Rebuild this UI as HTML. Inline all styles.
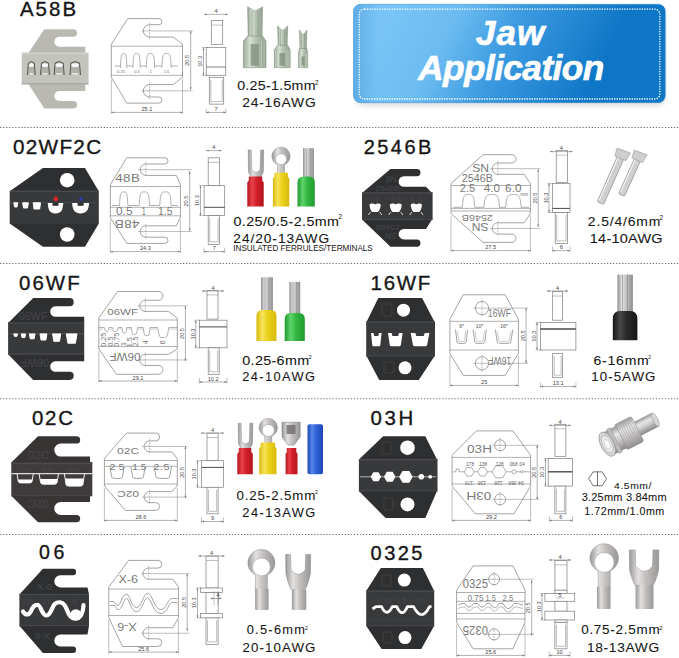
<!DOCTYPE html><html><head><meta charset="utf-8"><style>html,body{margin:0;padding:0;background:#fff;}svg{display:block;} text{font-family:"Liberation Sans",sans-serif;}</style></head><body>
<svg width="679" height="658" viewBox="0 0 679 658" font-family="Liberation Sans, sans-serif">
<defs>
<linearGradient id="bg1" gradientUnits="userSpaceOnUse" x1="385" y1="25" x2="575" y2="120">
<stop offset="0" stop-color="#78c4f6"/><stop offset="0.28" stop-color="#6cbcf2"/><stop offset="0.55" stop-color="#3d9be0"/><stop offset="1" stop-color="#0e76c7"/>
</linearGradient>
<linearGradient id="bgL" gradientUnits="userSpaceOnUse" x1="353" y1="0" x2="378" y2="0">
<stop offset="0" stop-color="#1f6fb8" stop-opacity="0.28"/><stop offset="1" stop-color="#1f6fb8" stop-opacity="0"/>
</linearGradient>
<filter id="sh" x="-10%" y="-10%" width="120%" height="140%"><feGaussianBlur stdDeviation="2.5"/></filter>
</defs>
<rect width="679" height="658" fill="#fff"/>
<path d="M0,127.5 H679" stroke="#707070" stroke-width="1.1" stroke-dasharray="1.3 1.75"/>
<path d="M0,263.5 H679" stroke="#707070" stroke-width="1.1" stroke-dasharray="1.3 1.75"/>
<path d="M0,398.8 H679" stroke="#707070" stroke-width="1.1" stroke-dasharray="1.3 1.75"/>
<path d="M0,534.5 H679" stroke="#707070" stroke-width="1.1" stroke-dasharray="1.3 1.75"/>
<rect x="356" y="8" width="309" height="98" rx="7" fill="#c9c4bd" opacity="0.55" filter="url(#sh)"/>
<rect x="353.5" y="4.3" width="311.8" height="98.4" rx="7" fill="url(#bg1)"/>
<rect x="353.5" y="4.3" width="311.8" height="98.4" rx="7" fill="url(#bgL)"/>
<rect x="353.5" y="4.3" width="311.8" height="98.4" rx="7" fill="none" stroke="#2f8fd8" stroke-opacity="0.5" stroke-width="1"/>
<rect x="359.3" y="9.2" width="300.5" height="89.8" rx="5" fill="none" stroke="#ffffff" stroke-width="1.3" stroke-dasharray="1.3 1.2"/>
<text x="475.85" y="45.30" font-size="35.30" letter-spacing="0.94" font-weight="bold" font-style="italic" fill="#ffffff" stroke="#fff" stroke-width="0.6">Jaw</text>
<text x="418.11" y="79.80" font-size="35.30" letter-spacing="-0.60" font-weight="bold" font-style="italic" fill="#ffffff" stroke="#fff" stroke-width="0.6">Application</text>
<text x="19.90" y="15.50" font-size="20.43" letter-spacing="2.09" font-weight="normal" font-style="normal" fill="#161616" stroke="#161616" stroke-width="0.35">A58B</text>
<text x="12.97" y="154.20" font-size="20.71" letter-spacing="1.29" font-weight="normal" font-style="normal" fill="#161616" stroke="#161616" stroke-width="0.35">02WF2C</text>
<text x="363.70" y="154.00" font-size="20.00" letter-spacing="2.45" font-weight="normal" font-style="normal" fill="#161616" stroke="#161616" stroke-width="0.35">2546B</text>
<text x="19.08" y="289.60" font-size="20.43" letter-spacing="2.03" font-weight="normal" font-style="normal" fill="#161616" stroke="#161616" stroke-width="0.35">06WF</text>
<text x="370.47" y="289.60" font-size="20.43" letter-spacing="1.80" font-weight="normal" font-style="normal" fill="#161616" stroke="#161616" stroke-width="0.35">16WF</text>
<text x="31.88" y="425.30" font-size="20.43" letter-spacing="1.82" font-weight="normal" font-style="normal" fill="#161616" stroke="#161616" stroke-width="0.35">02C</text>
<text x="370.58" y="425.30" font-size="20.43" letter-spacing="2.63" font-weight="normal" font-style="normal" fill="#161616" stroke="#161616" stroke-width="0.35">03H</text>
<text x="39.02" y="559.30" font-size="19.57" letter-spacing="3.64" font-weight="normal" font-style="normal" fill="#161616" stroke="#161616" stroke-width="0.35">06</text>
<text x="370.60" y="559.60" font-size="20.00" letter-spacing="2.47" font-weight="normal" font-style="normal" fill="#161616" stroke="#161616" stroke-width="0.35">0325</text>
<text transform="translate(237.13 90.40) scale(1.0700 1)" font-size="13.29" letter-spacing="0.27" font-weight="normal" font-style="normal" fill="#161616" stroke="#161616" stroke-width="0.08">0.25-1.5mm</text>
<text transform="translate(242.30 107.30) scale(1.0700 1)" font-size="13.00" letter-spacing="0.69" font-weight="normal" font-style="normal" fill="#161616" stroke="#161616" stroke-width="0.08">24-16AWG</text>
<text transform="translate(233.43 225.90) scale(1.0700 1)" font-size="13.38" letter-spacing="0.39" font-weight="normal" font-style="normal" fill="#161616" stroke="#161616" stroke-width="0.08">0.25/0.5-2.5mm</text>
<text transform="translate(233.31 242.60) scale(1.0700 1)" font-size="12.83" letter-spacing="0.89" font-weight="normal" font-style="normal" fill="#161616" stroke="#161616" stroke-width="0.08">24/20-13AWG</text>
<text transform="translate(587.81 225.80) scale(1.0700 1)" font-size="12.97" letter-spacing="0.82" font-weight="normal" font-style="normal" fill="#161616" stroke="#161616" stroke-width="0.08">2.5/4/6mm</text>
<text transform="translate(589.81 242.90) scale(1.0700 1)" font-size="13.57" letter-spacing="0.21" font-weight="normal" font-style="normal" fill="#161616" stroke="#161616" stroke-width="0.08">14-10AWG</text>
<text transform="translate(242.33 364.70) scale(1.0700 1)" font-size="13.43" letter-spacing="0.29" font-weight="normal" font-style="normal" fill="#161616" stroke="#161616" stroke-width="0.08">0.25-6mm</text>
<text transform="translate(242.26 381.40) scale(1.0700 1)" font-size="12.00" letter-spacing="1.32" font-weight="normal" font-style="normal" fill="#161616" stroke="#161616" stroke-width="0.08">24-10AWG</text>
<text transform="translate(593.50 364.50) scale(1.0700 1)" font-size="13.14" letter-spacing="0.71" font-weight="normal" font-style="normal" fill="#161616" stroke="#161616" stroke-width="0.08">6-16mm</text>
<text transform="translate(591.30 381.30) scale(1.0700 1)" font-size="12.43" letter-spacing="0.98" font-weight="normal" font-style="normal" fill="#161616" stroke="#161616" stroke-width="0.08">10-5AWG</text>
<text transform="translate(236.47 499.70) scale(1.0700 1)" font-size="12.43" letter-spacing="0.82" font-weight="normal" font-style="normal" fill="#161616" stroke="#161616" stroke-width="0.08">0.25-2.5mm</text>
<text transform="translate(242.36 517.10) scale(1.0700 1)" font-size="12.00" letter-spacing="1.34" font-weight="normal" font-style="normal" fill="#161616" stroke="#161616" stroke-width="0.08">24-13AWG</text>
<text transform="translate(246.69 634.40) scale(1.0700 1)" font-size="12.00" letter-spacing="1.20" font-weight="normal" font-style="normal" fill="#161616" stroke="#161616" stroke-width="0.08">0.5-6mm</text>
<text transform="translate(242.54 651.80) scale(1.0700 1)" font-size="12.43" letter-spacing="1.02" font-weight="normal" font-style="normal" fill="#161616" stroke="#161616" stroke-width="0.08">20-10AWG</text>
<text transform="translate(581.16 634.40) scale(1.0700 1)" font-size="12.57" letter-spacing="0.70" font-weight="normal" font-style="normal" fill="#161616" stroke="#161616" stroke-width="0.08">0.75-2.5mm</text>
<text transform="translate(586.97 651.80) scale(1.0700 1)" font-size="12.86" letter-spacing="0.63" font-weight="normal" font-style="normal" fill="#161616" stroke="#161616" stroke-width="0.08">18-13AWG</text>
<text transform="translate(614.09 488.50) scale(1.0700 1)" font-size="9.66" letter-spacing="0.53" font-weight="normal" font-style="normal" fill="#161616" stroke="#161616" stroke-width="0.08">4.5mm/</text>
<text transform="translate(581.76 501.40) scale(1.0700 1)" font-size="10.29" letter-spacing="0.18" font-weight="normal" font-style="normal" fill="#161616" stroke="#161616" stroke-width="0.08">3.25mm 3.84mm</text>
<text transform="translate(584.29 514.60) scale(1.0700 1)" font-size="10.07" letter-spacing="0.45" font-weight="normal" font-style="normal" fill="#161616" stroke="#161616" stroke-width="0.08">1.72mm/1.0mm</text>
<text x="315.08" y="84.60" font-size="6.43" letter-spacing="0.00" font-weight="normal" font-style="normal" fill="#161616" >2</text>
<text x="338.35" y="218.90" font-size="7.00" letter-spacing="0.00" font-weight="normal" font-style="normal" fill="#161616" >2</text>
<text x="659.58" y="220.40" font-size="6.43" letter-spacing="0.00" font-weight="normal" font-style="normal" fill="#161616" >2</text>
<text x="308.61" y="358.80" font-size="5.86" letter-spacing="0.00" font-weight="normal" font-style="normal" fill="#161616" >2</text>
<text x="648.35" y="358.80" font-size="5.00" letter-spacing="0.00" font-weight="normal" font-style="normal" fill="#161616" >2</text>
<text x="314.94" y="494.00" font-size="5.29" letter-spacing="0.00" font-weight="normal" font-style="normal" fill="#161616" >2</text>
<text x="304.72" y="629.50" font-size="5.57" letter-spacing="0.00" font-weight="normal" font-style="normal" fill="#161616" >2</text>
<text x="659.20" y="629.50" font-size="6.00" letter-spacing="0.00" font-weight="normal" font-style="normal" fill="#161616" >2</text>
<text transform="translate(233.27 251.40) scale(0.9836 1)" font-size="8.28" letter-spacing="0.00" font-weight="normal" font-style="normal" fill="#161616" >INSULATED FERRULES/TERMINALS</text>
<path d="M28.40,53.10 L44.30,29.20 L73.25,29.20 A3.75,3.75 0 0 1 73.25,36.70 L59.35,36.70 A5.05,5.05 0 0 0 59.35,46.80 L85.30,46.80 L85.30,53.10 Z" fill="#b9b9b2"/>
<path d="M28.40,83.90 L44.30,108.60 L73.25,108.60 A3.75,3.75 0 0 0 73.25,101.10 L59.35,101.10 A5.05,5.05 0 0 1 59.35,91.00 L85.30,91.00 L85.30,83.90 Z" fill="#b9b9b2"/>
<rect x="21.7" y="52.6" width="66.90" height="31.80" fill="#c4c4be"/>
<path d="M9.7,191.3 L42.9,168.1 L85,168.1 L98.8,191.3 Z" fill="#2e2f31"/>
<path d="M9.7,223.5 L42.9,246.7 L85,246.7 L98.8,223.5 Z" fill="#2e2f31"/>
<rect x="9.7" y="190.8" width="89.10" height="33.20" fill="#38393b"/>
<circle cx="67.2" cy="180.2" r="7.3" fill="#fff"/>
<circle cx="67.2" cy="234.5" r="7.3" fill="#fff"/>
<path d="M362.00,192.90 L390.50,168.90 L416.85,168.90 A3.65,3.65 0 0 1 416.85,176.20 L403.85,176.20 A5.25,5.25 0 0 0 403.85,186.70 L426.00,186.70 L432.00,192.90 Z" fill="#2e2f31"/>
<path d="M362.00,219.50 L390.50,246.70 L416.85,246.70 A3.65,3.65 0 0 0 416.85,239.40 L403.85,239.40 A5.25,5.25 0 0 1 403.85,228.90 L426.00,228.90 L432.00,219.50 Z" fill="#2e2f31"/>
<rect x="362" y="192.4" width="70.60" height="27.60" fill="#38393b"/>
<path d="M8.10,322.90 L33.20,298.10 L69.65,298.10 A4.05,4.05 0 0 1 69.65,306.20 L55.45,306.20 A5.25,5.25 0 0 0 55.45,316.70 L84.20,316.70 L84.20,322.90 Z" fill="#2e2f31"/>
<path d="M8.10,354.30 L33.20,379.90 L69.65,379.90 A4.05,4.05 0 0 0 69.65,371.80 L55.45,371.80 A5.25,5.25 0 0 1 55.45,361.30 L84.20,361.30 L84.20,354.30 Z" fill="#2e2f31"/>
<rect x="8.1" y="322.4" width="76.10" height="32.40" fill="#38393b"/>
<path d="M366.5,322.1 L378.3,298.1 L422.1,298.1 L434.6,322.1 Z" fill="#2e2f31"/>
<path d="M366.5,355.9 L379.2,380 L418.8,380 L434.6,355.9 Z" fill="#2e2f31"/>
<rect x="366.2" y="321.6" width="68.80" height="34.80" fill="#38393b"/>
<circle cx="403.5" cy="310.2" r="6.5" fill="#fff"/>
<circle cx="405" cy="367.8" r="6.5" fill="#fff"/>
<path d="M11.30,462.50 L38.00,436.30 L76.55,436.30 A3.65,3.65 0 0 1 76.55,443.60 L60.80,443.60 A6.50,6.50 0 0 0 60.80,456.60 L90.00,456.60 L90.00,462.50 Z" fill="#383434"/>
<path d="M11.30,495.80 L38.00,522.20 L76.55,522.20 A3.65,3.65 0 0 0 76.55,514.90 L60.80,514.90 A6.50,6.50 0 0 1 60.80,501.90 L90.00,501.90 L90.00,495.80 Z" fill="#383434"/>
<rect x="11.3" y="462" width="81.00" height="34.30" fill="#3f3b3b"/>
<path d="M358.9,459.5 L383.2,436.3 L425.3,436.3 L437,459.5 Z" fill="#2e2f31"/>
<path d="M358.9,490.9 L385.6,518.1 L425.3,518.1 L437,490.9 Z" fill="#2e2f31"/>
<rect x="358.9" y="459" width="78.60" height="32.40" fill="#38393b"/>
<circle cx="407.5" cy="447.7" r="7.3" fill="#fff"/>
<circle cx="407.5" cy="504.4" r="7.0" fill="#fff"/>
<path d="M19.40,594.40 L42.90,568.80 L72.90,568.80 A3.20,3.20 0 0 1 72.90,575.20 L60.40,575.20 A6.10,6.10 0 0 0 60.40,587.40 L87.50,587.40 L89.00,594.40 Z" fill="#2e2f31"/>
<path d="M19.40,625.80 L42.90,653.00 L72.90,653.00 A3.20,3.20 0 0 0 72.90,646.60 L60.40,646.60 A6.10,6.10 0 0 1 60.40,634.40 L87.50,634.40 L89.00,625.80 Z" fill="#2e2f31"/>
<rect x="19.4" y="593.9" width="69.60" height="32.40" fill="#38393b"/>
<path d="M366.2,591.1 L380.8,568 L422.9,568 L434.2,591.1 Z" fill="#2e2f31"/>
<path d="M366.2,625.8 L381.6,649 L421.3,649 L434.2,625.8 Z" fill="#2e2f31"/>
<rect x="366.2" y="590.6" width="68.00" height="35.70" fill="#38393b"/>
<circle cx="404.3" cy="580.1" r="6.5" fill="#fff"/>
<circle cx="405" cy="637.6" r="6.5" fill="#fff"/>
<path d="M27.4,75 L28.4,63 Q31.349999999999998,60 34.3,63 L35.3,75" fill="#b2b2ab" stroke="#4e4e4a" stroke-width="0.9"/>
<ellipse cx="31.349999999999998" cy="65.2" rx="2.4499999999999993" ry="1.9" fill="#fafafa"/>
<rect x="29.4" y="73.2" width="3.8999999999999986" height="1.3" fill="#f4f4f4"/>
<path d="M40.5,75 L41.5,63 Q45.0,60 48.5,63 L49.5,75" fill="#b2b2ab" stroke="#4e4e4a" stroke-width="0.9"/>
<ellipse cx="45.0" cy="65.2" rx="3.0" ry="1.9" fill="#fafafa"/>
<rect x="42.5" y="73.2" width="5" height="1.3" fill="#f4f4f4"/>
<path d="M54.1,75 L55.1,63 Q59.150000000000006,60 63.2,63 L64.2,75" fill="#b2b2ab" stroke="#4e4e4a" stroke-width="0.9"/>
<ellipse cx="59.150000000000006" cy="65.2" rx="3.5500000000000007" ry="1.9" fill="#fafafa"/>
<rect x="56.1" y="73.2" width="6.100000000000001" height="1.3" fill="#f4f4f4"/>
<path d="M69.9,75 L70.9,63 Q75.2,60 79.5,63 L80.5,75" fill="#b2b2ab" stroke="#4e4e4a" stroke-width="0.9"/>
<ellipse cx="75.2" cy="65.2" rx="3.799999999999997" ry="1.9" fill="#fafafa"/>
<rect x="71.9" y="73.2" width="6.599999999999994" height="1.3" fill="#f4f4f4"/>
<path d="M21.7,53.2 H88.6" stroke="#d8d8d2" stroke-width="1"/>
<path d="M21.7,83.8 H88.6" stroke="#96968f" stroke-width="0.8"/>
<path d="M10,191.2 H98.8" stroke="#55565a" stroke-width="0.9"/>
<path d="M10,202.6 H98.8" stroke="#4a4b4e" stroke-width="0.8"/>
<path d="M13.8,202.8 L17.8,202.8 L17.0,207 L14.600000000000001,207 Z" fill="#fff" stroke="#fff" stroke-width="1.0" stroke-linejoin="round"/>
<path d="M22.7,202.8 L28.3,202.8 L27.5,208 L23.5,208 Z" fill="#fff" stroke="#fff" stroke-width="1.0" stroke-linejoin="round"/>
<path d="M33.2,202.8 L40.5,202.8 L39.7,209 L34.0,209 Z" fill="#fff" stroke="#fff" stroke-width="1.0" stroke-linejoin="round"/>
<path d="M47.8,203 C48,210 50,213.5 55.5,213.5 C61,213.5 63,210 63.2,203 Z" fill="#fff"/>
<path d="M72.1,203 C72.5,210 75,213.5 80.6,213.5 C86,213.5 88.8,210 89.1,203 Z" fill="#fff"/>
<rect x="52.5" y="202.6" width="6" height="3.2" fill="#2e2f31"/>
<rect x="77.6" y="202.6" width="6" height="3.2" fill="#2e2f31"/>
<circle cx="55.9" cy="198.9" r="2.4" fill="#d8262c"/>
<circle cx="81" cy="198.9" r="2.2" fill="#2c3f9c"/>
<path d="M362,193 H432.6" stroke="#55565a" stroke-width="0.9"/>
<path d="M369.4,205 Q369.4,203 373.1,203.5 Q375.1,205 377.1,203.5 Q380.8,203 380.8,205 Q379.8,211 377.8,212 L372.4,212 Q370.4,211 369.4,205 Z" fill="#fff"/>
<path d="M368.4,215 L370.4,212 M381.8,215 L379.8,212" stroke="#fff" stroke-width="0.8"/>
<path d="M389.7,205 Q389.7,203 393.75,203.5 Q395.75,205 397.75,203.5 Q401.8,203 401.8,205 Q400.8,211 398.8,212 L392.7,212 Q390.7,211 389.7,205 Z" fill="#fff"/>
<path d="M388.7,215 L390.7,212 M402.8,215 L400.8,212" stroke="#fff" stroke-width="0.8"/>
<path d="M410.7,205 Q410.7,203 414.35,203.5 Q416.35,205 418.35,203.5 Q422,203 422,205 Q421,211 419,212 L413.7,212 Q411.7,211 410.7,205 Z" fill="#fff"/>
<path d="M409.7,215 L411.7,212 M423,215 L421,212" stroke="#fff" stroke-width="0.8"/>
<path d="M362,219.5 H432.6" stroke="#4a4b4e" stroke-width="0.8"/>
<path d="M8.1,323 H84.2" stroke="#4b4c4f" stroke-width="1.2"/>
<path d="M8.1,333.6 H84.2" stroke="#5a5b5e" stroke-width="0.7"/>
<path d="M13.8,333.9 L17.5,333.9 L16.945,336.3 L14.355,336.3 Z" fill="#fff" stroke="#fff" stroke-width="1.0" stroke-linejoin="round"/>
<path d="M21.3,333.9 L25.6,333.9 L24.955000000000002,337.5 L21.945,337.5 Z" fill="#fff" stroke="#fff" stroke-width="1.0" stroke-linejoin="round"/>
<path d="M29.4,333.9 L35,333.9 L34.16,338.8 L30.24,338.8 Z" fill="#fff" stroke="#fff" stroke-width="1.0" stroke-linejoin="round"/>
<path d="M40,333.9 L46.9,333.9 L45.865,340 L41.035,340 Z" fill="#fff" stroke="#fff" stroke-width="1.0" stroke-linejoin="round"/>
<path d="M52.6,333.9 L60.7,333.9 L59.485,341.3 L53.815000000000005,341.3 Z" fill="#fff" stroke="#fff" stroke-width="1.0" stroke-linejoin="round"/>
<path d="M66.3,333.9 L77,333.9 L75.395,343.2 L67.905,343.2 Z" fill="#fff" stroke="#fff" stroke-width="1.0" stroke-linejoin="round"/>
<path d="M8.1,353.8 H84.2" stroke="#4b4c4f" stroke-width="0.8"/>
<path d="M366.2,322.2 H435" stroke="#4b4c4f" stroke-width="1.2"/>
<path d="M371,333 L373.65,333 L374.18,336 L378.42,336 L378.95000000000005,333 L381.6,333 L380.32800000000003,345 Q380.11600000000004,346.3 379.26800000000003,346.3 L373.332,346.3 Q372.484,346.3 372.272,345 Z" fill="#fff"/>
<path d="M388,333 L391.65,333 L392.38,336 L398.22,336 L398.95000000000005,333 L402.6,333 L400.848,345 Q400.55600000000004,346.3 399.38800000000003,346.3 L391.212,346.3 Q390.044,346.3 389.752,345 Z" fill="#fff"/>
<path d="M410.7,333 L415.375,333 L416.31,336 L423.78999999999996,336 L424.72499999999997,333 L429.4,333 L427.156,345 Q426.782,346.3 425.286,346.3 L414.81399999999996,346.3 Q413.318,346.3 412.94399999999996,345 Z" fill="#fff"/>
<path d="M366.2,355.8 H435" stroke="#4b4c4f" stroke-width="0.8"/>
<rect x="382" y="304" width="10" height="12" rx="2" fill="none" stroke="#444" stroke-width="0.9"/>
<rect x="384" y="362" width="10" height="11" rx="2" fill="none" stroke="#444" stroke-width="0.9"/>
<path d="M11.3,463.6 H92.3" stroke="#4b4c4f" stroke-width="1.2"/>
<path d="M11.3,473.6 H92.3" stroke="#d9d9d9" stroke-width="1.1"/>
<path d="M17,473.8 L18.304,481.4 Q18.63,482.9 20.586,482.9 L29.714,482.9 Q31.669999999999998,482.9 31.996,481.4 L33.3,473.8" fill="none" stroke="#f2f2f2" stroke-width="1.0"/>
<path d="M17.8965,479.4 L32.403499999999994,479.4 L31.996,481.4 Q31.669999999999998,482.9 29.714,482.9 L20.586,482.9 Q18.63,482.9 18.304,481.4 Z" fill="#fff"/>
<path d="M39.1,473.8 L40.652,482.7 Q41.04,484.2 43.368,484.2 L54.232,484.2 Q56.56,484.2 56.948,482.7 L58.5,473.8" fill="none" stroke="#f2f2f2" stroke-width="1.0"/>
<path d="M40.167,479.0 L57.433,479.0 L56.948,482.7 Q56.56,484.2 54.232,484.2 L43.368,484.2 Q41.04,484.2 40.652,482.7 Z" fill="#fff"/>
<path d="M64.4,473.8 L66.00800000000001,484.6 Q66.41000000000001,486.1 68.822,486.1 L80.078,486.1 Q82.49,486.1 82.892,484.6 L84.5,473.8" fill="none" stroke="#f2f2f2" stroke-width="1.0"/>
<path d="M65.50550000000001,478.6 L83.3945,478.6 L82.892,484.6 Q82.49,486.1 80.078,486.1 L68.822,486.1 Q66.41000000000001,486.1 66.00800000000001,484.6 Z" fill="#fff"/>
<path d="M11.3,495.6 H92.3" stroke="#4b4c4f" stroke-width="0.8"/>
<path d="M358.9,459.6 H437.5" stroke="#4b4c4f" stroke-width="1.2"/>
<path d="M360,476.8 H436" stroke="#e6e6e6" stroke-width="0.7"/>
<polygon points="381.10,476.80 378.50,481.30 373.30,481.30 370.70,476.80 373.30,472.30 378.50,472.30" fill="#fff"/>
<polygon points="395.50,476.80 392.60,481.82 386.80,481.82 383.90,476.80 386.80,471.78 392.60,471.78" fill="#fff"/>
<polygon points="412.70,476.80 409.30,482.69 402.50,482.69 399.10,476.80 402.50,470.91 409.30,470.91" fill="#fff"/>
<circle cx="421.3" cy="476.8" r="2.8" fill="#fff"/>
<circle cx="430.2" cy="476.8" r="1.9" fill="#fff"/>
<path d="M358.9,490.8 H437.5" stroke="#4b4c4f" stroke-width="0.8"/>
<rect x="382" y="442" width="9" height="12" rx="2" fill="none" stroke="#444" stroke-width="0.9"/>
<rect x="384" y="498" width="9" height="12" rx="2" fill="none" stroke="#444" stroke-width="0.9"/>
<path d="M19.4,594.5 H89" stroke="#4b4c4f" stroke-width="1.2"/>
<path d="M23,611.5 C26,616 29,615 31,611 C33,606 35,604.5 38,605 C41,605.6 42,615.5 46.5,615.5 C51,615.5 52,606 55,603.8 C58,601.5 62,602 64.5,605 C67,608 67.5,614 71,617 C74,619.5 78,619.5 80.5,616 C83,612.5 83.3,609 83.5,605" fill="none" stroke="#fff" stroke-width="4.2" stroke-linecap="round" stroke-linejoin="round"/>
<ellipse cx="75.8" cy="614.5" rx="5.5" ry="5.2" fill="#fff"/>
<path d="M19.4,625.6 H89" stroke="#4b4c4f" stroke-width="0.8"/>
<path d="M366.2,591.2 H434.2" stroke="#4b4c4f" stroke-width="1.2"/>
<path d="M366.2,600 H434.2" stroke="#3f4043" stroke-width="0.6"/>
<path d="M372.5,609 L376,606.6 H381.5 Q386.9,618 392.3,606.6 H396.8 Q402.1,618.8 407.4,606.6 H413.5 Q421.7,622.5 429.5,606.6 H431.5" fill="none" stroke="#fff" stroke-width="2.8" stroke-linejoin="round"/>
<path d="M366.2,619.5 H434.2" stroke="#3f4043" stroke-width="0.7"/>
<path d="M366.2,625.7 H434.2" stroke="#4b4c4f" stroke-width="0.8"/>
<rect x="382" y="575" width="9" height="11" rx="2" fill="none" stroke="#444" stroke-width="0.9"/>
<rect x="383" y="632" width="9" height="11" rx="2" fill="none" stroke="#444" stroke-width="0.9"/>
<text transform="translate(385.43 182.40) scale(0.8941 1)" font-size="9.14" letter-spacing="0.00" font-weight="normal" font-style="normal" fill="#46474a" >SN</text>
<text transform="translate(375.58 190.80) scale(1.1463 1)" font-size="7.29" letter-spacing="0.00" font-weight="normal" font-style="normal" fill="#46474a" >2546B</text>
<text transform="translate(369.98 201.80) scale(0.8869 1)" font-size="7.29" letter-spacing="0.00" font-weight="normal" font-style="normal" fill="#46474a" >2.5</text>
<text transform="translate(390.85 201.80) scale(1.0590 1)" font-size="7.29" letter-spacing="0.00" font-weight="normal" font-style="normal" fill="#46474a" >4.0</text>
<text transform="translate(410.58 201.80) scale(1.1569 1)" font-size="7.29" letter-spacing="0.00" font-weight="normal" font-style="normal" fill="#46474a" >6.0</text>
<g transform="rotate(180 387.65 227.60)"><text transform="translate(375.58 230.20) scale(1.1242 1)" font-size="7.43" letter-spacing="0.00" font-weight="normal" font-style="normal" fill="#46474a" >2546B</text></g>
<g transform="rotate(180 390.95 236.20)"><text transform="translate(385.43 239.40) scale(0.8941 1)" font-size="9.14" letter-spacing="0.00" font-weight="normal" font-style="normal" fill="#46474a" >SN</text></g>
<text transform="translate(18.97 320.00) scale(1.0238 1)" font-size="10.43" letter-spacing="-0.00" font-weight="normal" font-style="normal" fill="#46474a" >06WF</text>
<g transform="rotate(180 34.80 362.25)"><text transform="translate(20.57 366.00) scale(0.9965 1)" font-size="10.71" letter-spacing="0.00" font-weight="normal" font-style="normal" fill="#46474a" >06WF</text></g>
<text transform="translate(27.84 459.00) scale(1.1092 1)" font-size="10.43" letter-spacing="0.00" font-weight="normal" font-style="normal" fill="#46474a" >02C</text>
<g transform="rotate(180 38.45 503.55)"><text transform="translate(27.84 507.30) scale(1.0796 1)" font-size="10.71" letter-spacing="0.00" font-weight="normal" font-style="normal" fill="#46474a" >02C</text></g>
<text transform="translate(21.61 472.50) scale(1.2200 1)" font-size="6.43" letter-spacing="-0.00" font-weight="normal" font-style="normal" fill="#46474a" >25</text>
<text transform="translate(42.47 472.50) scale(1.0824 1)" font-size="6.52" letter-spacing="0.00" font-weight="normal" font-style="normal" fill="#46474a" >1.5</text>
<text transform="translate(68.62 472.50) scale(1.1966 1)" font-size="6.43" letter-spacing="0.00" font-weight="normal" font-style="normal" fill="#46474a" >2.5</text>
<text transform="translate(37.06 590.00) scale(1.1353 1)" font-size="8.57" letter-spacing="0.00" font-weight="normal" font-style="normal" fill="#46474a" >X-6</text>
<g transform="rotate(180 42.50 636.10)"><text transform="translate(34.75 639.20) scale(1.1366 1)" font-size="8.86" letter-spacing="0.00" font-weight="normal" font-style="normal" fill="#46474a" >X-6</text></g>
<text transform="translate(22.69 604.40) scale(1.0905 1)" font-size="7.00" letter-spacing="0.00" font-weight="normal" font-style="normal" fill="#46474a" >0.5</text>
<text transform="translate(41.65 604.40) scale(0.9890 1)" font-size="7.00" letter-spacing="0.00" font-weight="normal" font-style="normal" fill="#46474a" >2.5</text>
<text transform="translate(72.57 604.40) scale(1.2289 1)" font-size="7.00" letter-spacing="0.00" font-weight="normal" font-style="normal" fill="#46474a" >6</text>
<text transform="translate(377.72 603.20) scale(0.9383 1)" font-size="7.43" letter-spacing="0.00" font-weight="normal" font-style="normal" fill="#46474a" >0.75</text>
<text transform="translate(397.53 603.20) scale(0.8326 1)" font-size="7.54" letter-spacing="0.00" font-weight="normal" font-style="normal" fill="#46474a" >1.5</text>
<text transform="translate(416.69 603.20) scale(0.8284 1)" font-size="7.43" letter-spacing="0.00" font-weight="normal" font-style="normal" fill="#46474a" >2.5</text>
<path d="M111.3,44.3 L127.8,18.6 L158.95,18.6 A3.05,3.05 0 0 1 158.95,24.7 L149.5,24.7 A6.20,6.20 0 0 0 149.5,37.1 L173.2,37.1 L182.5,44.3 L182.5,77.3 L173.2,84.60 L149.5,84.60 A6.20,6.20 0 0 0 149.5,97.00 L158.95,97.00 A3.05,3.05 0 0 1 158.95,103.1 L126.8,103.1 L111.3,77.3 Z" fill="#fff" stroke="#7c7c7c" stroke-width="0.7"/>
<path d="M111.3,46.2 H182.5" stroke="#7c7c7c" stroke-width="0.6"/>
<path d="M111.3,75.4 H182.5" stroke="#7c7c7c" stroke-width="0.6"/>
<path d="M149.5,22.699999999999996 V39.1" stroke="#7c7c7c" stroke-width="0.5" stroke-dasharray="2 1"/>
<path d="M141.3,30.9 H192.7" stroke="#7c7c7c" stroke-width="0.5"/>
<path d="M149.5,82.59999999999998 V98.99999999999999" stroke="#7c7c7c" stroke-width="0.5" stroke-dasharray="2 1"/>
<path d="M141.3,90.79999999999998 H192.7" stroke="#7c7c7c" stroke-width="0.5"/>
<path d="M190.7,31 V89.7" stroke="#7c7c7c" stroke-width="0.6"/><path d="M190.7,31 l-0.9,2.5 h1.8 Z M190.7,89.7 l-0.9,-2.5 h1.8 Z" fill="#7c7c7c"/>
<text x="189.39999999999998" y="60.35" font-size="5.6" fill="#444" text-anchor="middle" transform="rotate(-90 189.39999999999998 60.35)">20.5</text>
<path d="M111.3,112.4 H182.5" stroke="#7c7c7c" stroke-width="0.6"/><path d="M111.3,112.4 l2.5,-0.9 v1.8 Z M182.5,112.4 l-2.5,-0.9 v1.8 Z" fill="#7c7c7c"/>
<path d="M111.3,79.3 V113.9 M182.5,79.3 V113.9" stroke="#7c7c7c" stroke-width="0.5"/>
<text x="146.9" y="111.10000000000001" font-size="5.6" fill="#444" text-anchor="middle">25.1</text>
<rect x="211.3" y="20.6" width="11.40" height="23.70" fill="#fff" stroke="#7c7c7c" stroke-width="0.7"/>
<rect x="206.2" y="47.4" width="19.60" height="27.90" fill="#fff" stroke="#7c7c7c" stroke-width="0.7"/>
<rect x="209.3" y="77.3" width="14.40" height="26.80" fill="#fff" stroke="#7c7c7c" stroke-width="0.7"/>
<path d="M206.2,67 H225.8" stroke="#4a4a4a" stroke-width="0.7"/>
<path d="M211.3,25.1 H222.7" stroke="#7c7c7c" stroke-width="0.5"/>
<path d="M210.8,79.8 V101.6 H222.2 V79.8" fill="none" stroke="#7c7c7c" stroke-width="0.5"/>
<path d="M204.2,14.4 H227.8" stroke="#7c7c7c" stroke-width="0.6"/><path d="M204.2,14.4 l2.5,-0.9 v1.8 Z M227.8,14.4 l-2.5,-0.9 v1.8 Z" fill="#7c7c7c"/>
<text x="216.0" y="13.1" font-size="5.6" fill="#444" text-anchor="middle">4</text>
<path d="M206.2,112.4 H225.8" stroke="#7c7c7c" stroke-width="0.6"/><path d="M206.2,112.4 l2.5,-0.9 v1.8 Z M225.8,112.4 l-2.5,-0.9 v1.8 Z" fill="#7c7c7c"/>
<path d="M206.2,108.4 V113.9 M225.8,108.4 V113.9" stroke="#7c7c7c" stroke-width="0.5"/>
<text x="216.0" y="111.10000000000001" font-size="5.6" fill="#444" text-anchor="middle">7</text>
<path d="M203.5,47.4 V75.3" stroke="#7c7c7c" stroke-width="0.6"/><path d="M203.5,47.4 l-0.9,2.5 h1.8 Z M203.5,75.3 l-0.9,-2.5 h1.8 Z" fill="#7c7c7c"/>
<path d="M202.0,47.4 H207.5 M202.0,75.3 H207.5" stroke="#7c7c7c" stroke-width="0.5"/>
<text x="202.3" y="61.349999999999994" font-size="5.6" fill="#444" text-anchor="middle" transform="rotate(-90 202.3 61.349999999999994)">10.3</text>
<path d="M110.3,184.6 L126.8,157.8 L164.90,157.8 A3.10,3.10 0 0 1 164.90,164 L145.9,164 A5.70,5.70 0 0 0 145.9,175.4 L176.3,175.4 L180.4,184.6 L180.4,217.6 L176.3,225.80 L145.9,225.80 A5.70,5.70 0 0 0 145.9,237.20 L164.90,237.20 A3.10,3.10 0 0 1 164.90,243.4 L126.8,243.4 L110.3,217.6 Z" fill="#fff" stroke="#7c7c7c" stroke-width="0.7"/>
<path d="M110.3,186.5 H180.4" stroke="#7c7c7c" stroke-width="0.6"/>
<path d="M110.3,207.3 H180.4" stroke="#7c7c7c" stroke-width="0.6"/>
<path d="M110.3,215.8 H180.4" stroke="#7c7c7c" stroke-width="0.6"/>
<path d="M145.9,162.0 V177.39999999999998" stroke="#7c7c7c" stroke-width="0.5" stroke-dasharray="2 1"/>
<path d="M138.2,169.7 H191.7" stroke="#7c7c7c" stroke-width="0.5"/>
<path d="M145.9,223.80000000000007 V239.20000000000005" stroke="#7c7c7c" stroke-width="0.5" stroke-dasharray="2 1"/>
<path d="M138.2,231.50000000000006 H191.7" stroke="#7c7c7c" stroke-width="0.5"/>
<path d="M189.7,171.2 V231" stroke="#7c7c7c" stroke-width="0.6"/><path d="M189.7,171.2 l-0.9,2.5 h1.8 Z M189.7,231 l-0.9,-2.5 h1.8 Z" fill="#7c7c7c"/>
<text x="188.39999999999998" y="201.1" font-size="5.6" fill="#444" text-anchor="middle" transform="rotate(-90 188.39999999999998 201.1)">20.5</text>
<path d="M110.3,251.6 H180.4" stroke="#7c7c7c" stroke-width="0.6"/><path d="M110.3,251.6 l2.5,-0.9 v1.8 Z M180.4,251.6 l-2.5,-0.9 v1.8 Z" fill="#7c7c7c"/>
<path d="M110.3,219.6 V253.1 M180.4,219.6 V253.1" stroke="#7c7c7c" stroke-width="0.5"/>
<text x="145.35" y="250.29999999999998" font-size="5.6" fill="#444" text-anchor="middle">24.3</text>
<rect x="208.2" y="157.8" width="11.40" height="27.90" fill="#fff" stroke="#7c7c7c" stroke-width="0.7"/>
<rect x="204.1" y="185.7" width="20.60" height="29.90" fill="#fff" stroke="#7c7c7c" stroke-width="0.7"/>
<rect x="208.2" y="215.6" width="11.40" height="28.80" fill="#fff" stroke="#7c7c7c" stroke-width="0.7"/>
<path d="M204.1,207.3 H224.7" stroke="#4a4a4a" stroke-width="1.0"/>
<path d="M208.2,162.3 H219.6" stroke="#7c7c7c" stroke-width="0.5"/>
<path d="M209.7,218.1 V241.9 H218.1 V218.1" fill="none" stroke="#7c7c7c" stroke-width="0.5"/>
<path d="M206.2,150.6 H221.6" stroke="#7c7c7c" stroke-width="0.6"/><path d="M206.2,150.6 l2.5,-0.9 v1.8 Z M221.6,150.6 l-2.5,-0.9 v1.8 Z" fill="#7c7c7c"/>
<text x="213.89999999999998" y="149.29999999999998" font-size="5.6" fill="#444" text-anchor="middle">4</text>
<path d="M204.1,251.6 H224.7" stroke="#7c7c7c" stroke-width="0.6"/><path d="M204.1,251.6 l2.5,-0.9 v1.8 Z M224.7,251.6 l-2.5,-0.9 v1.8 Z" fill="#7c7c7c"/>
<path d="M204.1,247.6 V253.1 M224.7,247.6 V253.1" stroke="#7c7c7c" stroke-width="0.5"/>
<text x="214.39999999999998" y="250.29999999999998" font-size="5.6" fill="#444" text-anchor="middle">7</text>
<path d="M200.5,185.7 V215.6" stroke="#7c7c7c" stroke-width="0.6"/><path d="M200.5,185.7 l-0.9,2.5 h1.8 Z M200.5,215.6 l-0.9,-2.5 h1.8 Z" fill="#7c7c7c"/>
<path d="M199.0,185.7 H204.5 M199.0,215.6 H204.5" stroke="#7c7c7c" stroke-width="0.5"/>
<text x="199.3" y="200.64999999999998" font-size="5.6" fill="#444" text-anchor="middle" transform="rotate(-90 199.3 200.64999999999998)">10.3</text>
<path d="M451,183.6 L483,154.7 L511.85,154.7 A4.15,4.15 0 0 1 511.85,163 L497.9,163 A5.65,5.65 0 0 0 497.9,174.3 L524.2,174.3 L530.4,183.6 L530.4,213.5 L524.2,222.80 L497.9,222.80 A5.65,5.65 0 0 0 497.9,234.10 L511.85,234.10 A4.15,4.15 0 0 1 511.85,242.4 L483,242.4 L451,213.5 Z" fill="#fff" stroke="#7c7c7c" stroke-width="0.7"/>
<path d="M451,185.5 H530.4" stroke="#7c7c7c" stroke-width="0.6"/>
<path d="M451,208.4 H530.4" stroke="#7c7c7c" stroke-width="0.6"/>
<path d="M451,211 H530.4" stroke="#7c7c7c" stroke-width="0.6"/>
<path d="M497.9,161.0 V176.3" stroke="#7c7c7c" stroke-width="0.5" stroke-dasharray="2 1"/>
<path d="M490.25,168.65 H540.2" stroke="#7c7c7c" stroke-width="0.5"/>
<path d="M497.9,220.8 V236.10000000000002" stroke="#7c7c7c" stroke-width="0.5" stroke-dasharray="2 1"/>
<path d="M490.25,228.45000000000002 H540.2" stroke="#7c7c7c" stroke-width="0.5"/>
<path d="M538.2,169.2 V226.9" stroke="#7c7c7c" stroke-width="0.6"/><path d="M538.2,169.2 l-0.9,2.5 h1.8 Z M538.2,226.9 l-0.9,-2.5 h1.8 Z" fill="#7c7c7c"/>
<text x="536.9000000000001" y="198.05" font-size="5.6" fill="#444" text-anchor="middle" transform="rotate(-90 536.9000000000001 198.05)">20.5</text>
<path d="M451,250.6 H530.4" stroke="#7c7c7c" stroke-width="0.6"/><path d="M451,250.6 l2.5,-0.9 v1.8 Z M530.4,250.6 l-2.5,-0.9 v1.8 Z" fill="#7c7c7c"/>
<path d="M451,215.5 V252.1 M530.4,215.5 V252.1" stroke="#7c7c7c" stroke-width="0.5"/>
<text x="490.7" y="249.29999999999998" font-size="5.6" fill="#444" text-anchor="middle">27.5</text>
<rect x="556.2" y="150.6" width="11.30" height="32.00" fill="#fff" stroke="#7c7c7c" stroke-width="0.7"/>
<rect x="552.5" y="183.6" width="17.50" height="28.90" fill="#fff" stroke="#7c7c7c" stroke-width="0.7"/>
<rect x="555.2" y="212.5" width="12.30" height="30.90" fill="#fff" stroke="#7c7c7c" stroke-width="0.7"/>
<path d="M552.5,208.4 H570" stroke="#4a4a4a" stroke-width="1.0"/>
<path d="M556.2,155.1 H567.5" stroke="#7c7c7c" stroke-width="0.5"/>
<path d="M556.7,215.0 V240.9 H566.0 V215.0" fill="none" stroke="#7c7c7c" stroke-width="0.5"/>
<path d="M550,151.6 H572.6" stroke="#7c7c7c" stroke-width="0.6"/><path d="M550,151.6 l2.5,-0.9 v1.8 Z M572.6,151.6 l-2.5,-0.9 v1.8 Z" fill="#7c7c7c"/>
<text x="561.3" y="150.29999999999998" font-size="5.6" fill="#444" text-anchor="middle">4</text>
<path d="M552.5,250.6 H570" stroke="#7c7c7c" stroke-width="0.6"/><path d="M552.5,250.6 l2.5,-0.9 v1.8 Z M570,250.6 l-2.5,-0.9 v1.8 Z" fill="#7c7c7c"/>
<path d="M552.5,246.6 V252.1 M570,246.6 V252.1" stroke="#7c7c7c" stroke-width="0.5"/>
<text x="561.25" y="249.29999999999998" font-size="5.6" fill="#444" text-anchor="middle">6</text>
<path d="M549,183.6 V212.5" stroke="#7c7c7c" stroke-width="0.6"/><path d="M549,183.6 l-0.9,2.5 h1.8 Z M549,212.5 l-0.9,-2.5 h1.8 Z" fill="#7c7c7c"/>
<path d="M547.5,183.6 H553 M547.5,212.5 H553" stroke="#7c7c7c" stroke-width="0.5"/>
<text x="547.8" y="198.05" font-size="5.6" fill="#444" text-anchor="middle" transform="rotate(-90 547.8 198.05)">10.3</text>
<path d="M98.8,318 L117.6,291.5 L158.50,291.5 A4.40,4.40 0 0 1 158.50,300.3 L145.25,300.3 A5.55,5.55 0 0 0 145.25,311.4 L168.4,311.4 L177.3,318 L177.3,349 L168.4,354.40 L145.25,354.40 A5.55,5.55 0 0 0 145.25,365.50 L158.50,365.50 A4.40,4.40 0 0 1 158.50,374.3 L116.5,374.3 L98.8,349 Z" fill="#fff" stroke="#7c7c7c" stroke-width="0.7"/>
<path d="M98.8,320 H177.3" stroke="#7c7c7c" stroke-width="0.6"/>
<path d="M98.8,346.5 H177.3" stroke="#7c7c7c" stroke-width="0.6"/>
<path d="M145.25,298.30000000000007 V313.4" stroke="#7c7c7c" stroke-width="0.5" stroke-dasharray="2 1"/>
<path d="M137.70000000000002,305.85 H187.4" stroke="#7c7c7c" stroke-width="0.5"/>
<path d="M145.25,352.4 V367.4999999999999" stroke="#7c7c7c" stroke-width="0.5" stroke-dasharray="2 1"/>
<path d="M137.70000000000002,359.94999999999993 H187.4" stroke="#7c7c7c" stroke-width="0.5"/>
<path d="M185.4,305.9 V361.1" stroke="#7c7c7c" stroke-width="0.6"/><path d="M185.4,305.9 l-0.9,2.5 h1.8 Z M185.4,361.1 l-0.9,-2.5 h1.8 Z" fill="#7c7c7c"/>
<text x="184.1" y="333.5" font-size="5.6" fill="#444" text-anchor="middle" transform="rotate(-90 184.1 333.5)">20.5</text>
<path d="M98.8,381 H177.3" stroke="#7c7c7c" stroke-width="0.6"/><path d="M98.8,381 l2.5,-0.9 v1.8 Z M177.3,381 l-2.5,-0.9 v1.8 Z" fill="#7c7c7c"/>
<path d="M98.8,351 V382.5 M177.3,351 V382.5" stroke="#7c7c7c" stroke-width="0.5"/>
<text x="138.05" y="379.7" font-size="5.6" fill="#444" text-anchor="middle">29.1</text>
<rect x="207" y="290.4" width="11.00" height="28.70" fill="#fff" stroke="#7c7c7c" stroke-width="0.7"/>
<rect x="199.3" y="320.2" width="27.70" height="27.60" fill="#fff" stroke="#7c7c7c" stroke-width="0.7"/>
<rect x="208.2" y="347.8" width="11.00" height="26.50" fill="#fff" stroke="#7c7c7c" stroke-width="0.7"/>
<path d="M199.3,326.9 H227" stroke="#4a4a4a" stroke-width="1.0"/>
<path d="M207,294.9 H218" stroke="#7c7c7c" stroke-width="0.5"/>
<path d="M209.7,350.3 V371.8 H217.7 V350.3" fill="none" stroke="#7c7c7c" stroke-width="0.5"/>
<path d="M202,291 H224" stroke="#7c7c7c" stroke-width="0.6"/><path d="M202,291 l2.5,-0.9 v1.8 Z M224,291 l-2.5,-0.9 v1.8 Z" fill="#7c7c7c"/>
<text x="213.0" y="289.7" font-size="5.6" fill="#444" text-anchor="middle">4</text>
<path d="M199.3,382 H227" stroke="#7c7c7c" stroke-width="0.6"/><path d="M199.3,382 l2.5,-0.9 v1.8 Z M227,382 l-2.5,-0.9 v1.8 Z" fill="#7c7c7c"/>
<path d="M199.3,378 V383.5 M227,378 V383.5" stroke="#7c7c7c" stroke-width="0.5"/>
<text x="213.15" y="380.7" font-size="5.6" fill="#444" text-anchor="middle">10.2</text>
<path d="M195.8,320.2 V347.8" stroke="#7c7c7c" stroke-width="0.6"/><path d="M195.8,320.2 l-0.9,2.5 h1.8 Z M195.8,347.8 l-0.9,-2.5 h1.8 Z" fill="#7c7c7c"/>
<path d="M194.3,320.2 H199.8 M194.3,347.8 H199.8" stroke="#7c7c7c" stroke-width="0.5"/>
<text x="194.60000000000002" y="334.0" font-size="5.6" fill="#444" text-anchor="middle" transform="rotate(-90 194.60000000000002 334.0)">10.3</text>
<path d="M449.9,319.1 L463.2,294.8 L505.2,294.8 L518.4,319.1 L518.4,353.4 L505.2,375.4 L463.2,375.4 L449.9,353.4 Z" fill="#fff" stroke="#7c7c7c" stroke-width="0.7"/>
<path d="M449.9,321.3 H518.4" stroke="#7c7c7c" stroke-width="0.6"/>
<path d="M449.9,350 H518.4" stroke="#7c7c7c" stroke-width="0.6"/>
<circle cx="482" cy="308.1" r="6.6" fill="none" stroke="#7c7c7c" stroke-width="0.7"/>
<path d="M482,299.5 V316.70000000000005" stroke="#7c7c7c" stroke-width="0.5" stroke-dasharray="2 1"/>
<path d="M473.4,308.1 H528.1" stroke="#7c7c7c" stroke-width="0.5"/>
<circle cx="482" cy="363.3" r="6.6" fill="none" stroke="#7c7c7c" stroke-width="0.7"/>
<path d="M482,354.7 V371.90000000000003" stroke="#7c7c7c" stroke-width="0.5" stroke-dasharray="2 1"/>
<path d="M473.4,363.3 H528.1" stroke="#7c7c7c" stroke-width="0.5"/>
<path d="M526.1,308.1 V363.3" stroke="#7c7c7c" stroke-width="0.6"/><path d="M526.1,308.1 l-0.9,2.5 h1.8 Z M526.1,363.3 l-0.9,-2.5 h1.8 Z" fill="#7c7c7c"/>
<text x="524.8000000000001" y="335.70000000000005" font-size="5.6" fill="#444" text-anchor="middle" transform="rotate(-90 524.8000000000001 335.70000000000005)">20.5</text>
<path d="M449.9,385.4 H518.4" stroke="#7c7c7c" stroke-width="0.6"/><path d="M449.9,385.4 l2.5,-0.9 v1.8 Z M518.4,385.4 l-2.5,-0.9 v1.8 Z" fill="#7c7c7c"/>
<path d="M449.9,355.4 V386.9 M518.4,355.4 V386.9" stroke="#7c7c7c" stroke-width="0.5"/>
<text x="484.15" y="384.09999999999997" font-size="5.6" fill="#444" text-anchor="middle">25</text>
<rect x="552.7" y="291.5" width="9.90" height="28.70" fill="#fff" stroke="#7c7c7c" stroke-width="0.7"/>
<rect x="540.5" y="322.4" width="35.40" height="27.60" fill="#fff" stroke="#7c7c7c" stroke-width="0.7"/>
<rect x="552.7" y="353.4" width="9.90" height="24.30" fill="#fff" stroke="#7c7c7c" stroke-width="0.7"/>
<path d="M540.5,329 H575.9" stroke="#4a4a4a" stroke-width="1.6"/>
<path d="M552.7,296.0 H562.6" stroke="#7c7c7c" stroke-width="0.5"/>
<path d="M554.2,355.9 V375.2 H561.1 V355.9" fill="none" stroke="#7c7c7c" stroke-width="0.5"/>
<path d="M547,291 H568" stroke="#7c7c7c" stroke-width="0.6"/><path d="M547,291 l2.5,-0.9 v1.8 Z M568,291 l-2.5,-0.9 v1.8 Z" fill="#7c7c7c"/>
<text x="557.5" y="289.7" font-size="5.6" fill="#444" text-anchor="middle">4</text>
<path d="M540.5,386.5 H575.9" stroke="#7c7c7c" stroke-width="0.6"/><path d="M540.5,386.5 l2.5,-0.9 v1.8 Z M575.9,386.5 l-2.5,-0.9 v1.8 Z" fill="#7c7c7c"/>
<path d="M540.5,382.5 V388.0 M575.9,382.5 V388.0" stroke="#7c7c7c" stroke-width="0.5"/>
<text x="558.2" y="385.2" font-size="5.6" fill="#444" text-anchor="middle">13.1</text>
<path d="M537,322.4 V350" stroke="#7c7c7c" stroke-width="0.6"/><path d="M537,322.4 l-0.9,2.5 h1.8 Z M537,350 l-0.9,-2.5 h1.8 Z" fill="#7c7c7c"/>
<path d="M535.5,322.4 H541 M535.5,350 H541" stroke="#7c7c7c" stroke-width="0.5"/>
<text x="535.8" y="336.2" font-size="5.6" fill="#444" text-anchor="middle" transform="rotate(-90 535.8 336.2)">10.3</text>
<path d="M104.4,458.5 L126.4,433.1 L155.70,433.1 A3.90,3.90 0 0 1 155.70,440.9 L149.6,440.9 A5.50,5.50 0 0 0 149.6,451.9 L171.7,451.9 L177.3,458.5 L177.3,486.1 L171.7,491.60 L149.6,491.60 A5.50,5.50 0 0 0 149.6,502.60 L155.70,502.60 A3.90,3.90 0 0 1 155.70,510.4 L125.3,510.4 L104.4,486.1 Z" fill="#fff" stroke="#7c7c7c" stroke-width="0.7"/>
<path d="M104.4,460.5 H177.3" stroke="#7c7c7c" stroke-width="0.6"/>
<path d="M104.4,466.3 H177.3" stroke="#7c7c7c" stroke-width="0.6"/>
<path d="M104.4,484 H177.3" stroke="#7c7c7c" stroke-width="0.6"/>
<path d="M149.6,438.9 V453.9" stroke="#7c7c7c" stroke-width="0.5" stroke-dasharray="2 1"/>
<path d="M142.1,446.4 H187.4" stroke="#7c7c7c" stroke-width="0.5"/>
<path d="M149.6,489.6 V504.6" stroke="#7c7c7c" stroke-width="0.5" stroke-dasharray="2 1"/>
<path d="M142.1,497.1 H187.4" stroke="#7c7c7c" stroke-width="0.5"/>
<path d="M185.4,446.4 V498.3" stroke="#7c7c7c" stroke-width="0.6"/><path d="M185.4,446.4 l-0.9,2.5 h1.8 Z M185.4,498.3 l-0.9,-2.5 h1.8 Z" fill="#7c7c7c"/>
<text x="184.1" y="472.35" font-size="5.6" fill="#444" text-anchor="middle" transform="rotate(-90 184.1 472.35)">20.5</text>
<path d="M104.4,520.4 H177.3" stroke="#7c7c7c" stroke-width="0.6"/><path d="M104.4,520.4 l2.5,-0.9 v1.8 Z M177.3,520.4 l-2.5,-0.9 v1.8 Z" fill="#7c7c7c"/>
<path d="M104.4,488.1 V521.9 M177.3,488.1 V521.9" stroke="#7c7c7c" stroke-width="0.5"/>
<text x="140.85000000000002" y="519.1" font-size="5.6" fill="#444" text-anchor="middle">28.6</text>
<rect x="207" y="433.1" width="11.10" height="27.60" fill="#fff" stroke="#7c7c7c" stroke-width="0.7"/>
<rect x="201.5" y="460.7" width="22.10" height="26.60" fill="#fff" stroke="#7c7c7c" stroke-width="0.7"/>
<rect x="207" y="487.3" width="11.10" height="26.50" fill="#fff" stroke="#7c7c7c" stroke-width="0.7"/>
<path d="M201.5,467.4 H223.6" stroke="#4a4a4a" stroke-width="1.0"/>
<path d="M207,437.6 H218.1" stroke="#7c7c7c" stroke-width="0.5"/>
<path d="M208.5,489.8 V511.29999999999995 H216.6 V489.8" fill="none" stroke="#7c7c7c" stroke-width="0.5"/>
<path d="M201,433.1 H224" stroke="#7c7c7c" stroke-width="0.6"/><path d="M201,433.1 l2.5,-0.9 v1.8 Z M224,433.1 l-2.5,-0.9 v1.8 Z" fill="#7c7c7c"/>
<text x="212.5" y="431.8" font-size="5.6" fill="#444" text-anchor="middle">4</text>
<path d="M201.5,521.5 H223.6" stroke="#7c7c7c" stroke-width="0.6"/><path d="M201.5,521.5 l2.5,-0.9 v1.8 Z M223.6,521.5 l-2.5,-0.9 v1.8 Z" fill="#7c7c7c"/>
<path d="M201.5,517.5 V523.0 M223.6,517.5 V523.0" stroke="#7c7c7c" stroke-width="0.5"/>
<text x="212.55" y="520.2" font-size="5.6" fill="#444" text-anchor="middle">9</text>
<path d="M197.5,460.7 V487.3" stroke="#7c7c7c" stroke-width="0.6"/><path d="M197.5,460.7 l-0.9,2.5 h1.8 Z M197.5,487.3 l-0.9,-2.5 h1.8 Z" fill="#7c7c7c"/>
<path d="M196.0,460.7 H201.5 M196.0,487.3 H201.5" stroke="#7c7c7c" stroke-width="0.5"/>
<text x="196.3" y="474.0" font-size="5.6" fill="#444" text-anchor="middle" transform="rotate(-90 196.3 474.0)">10.3</text>
<path d="M452.1,455.2 L476.4,430.9 L512.9,430.9 L530.6,455.2 L530.6,486.1 L514,513.8 L475.3,513.8 L452.1,486.1 Z" fill="#fff" stroke="#7c7c7c" stroke-width="0.7"/>
<path d="M452.1,457.4 H530.6" stroke="#7c7c7c" stroke-width="0.6"/>
<path d="M452.1,484 H530.6" stroke="#7c7c7c" stroke-width="0.6"/>
<circle cx="500.1" cy="445.3" r="5.5" fill="none" stroke="#7c7c7c" stroke-width="0.7"/>
<path d="M500.1,437.8 V452.8" stroke="#7c7c7c" stroke-width="0.5" stroke-dasharray="2 1"/>
<path d="M492.6,445.3 H539.2" stroke="#7c7c7c" stroke-width="0.5"/>
<circle cx="500.1" cy="499.4" r="5.5" fill="none" stroke="#7c7c7c" stroke-width="0.7"/>
<path d="M500.1,491.9 V506.9" stroke="#7c7c7c" stroke-width="0.5" stroke-dasharray="2 1"/>
<path d="M492.6,499.4 H539.2" stroke="#7c7c7c" stroke-width="0.5"/>
<path d="M537.2,445.3 V499.4" stroke="#7c7c7c" stroke-width="0.6"/><path d="M537.2,445.3 l-0.9,2.5 h1.8 Z M537.2,499.4 l-0.9,-2.5 h1.8 Z" fill="#7c7c7c"/>
<text x="535.9000000000001" y="472.35" font-size="5.6" fill="#444" text-anchor="middle" transform="rotate(-90 535.9000000000001 472.35)">20.5</text>
<path d="M452.1,520.4 H530.6" stroke="#7c7c7c" stroke-width="0.6"/><path d="M452.1,520.4 l2.5,-0.9 v1.8 Z M530.6,520.4 l-2.5,-0.9 v1.8 Z" fill="#7c7c7c"/>
<path d="M452.1,488.1 V521.9 M530.6,488.1 V521.9" stroke="#7c7c7c" stroke-width="0.5"/>
<text x="491.35" y="519.1" font-size="5.6" fill="#444" text-anchor="middle">29.2</text>
<rect x="554.9" y="424.3" width="11.00" height="32.00" fill="#fff" stroke="#7c7c7c" stroke-width="0.7"/>
<rect x="548.2" y="458.5" width="24.30" height="27.60" fill="#fff" stroke="#7c7c7c" stroke-width="0.7"/>
<rect x="554.9" y="486.1" width="11.00" height="27.70" fill="#fff" stroke="#7c7c7c" stroke-width="0.7"/>
<path d="M548.2,471.8 H572.5" stroke="#4a4a4a" stroke-width="1.4"/>
<path d="M554.9,428.8 H565.9" stroke="#7c7c7c" stroke-width="0.5"/>
<path d="M556.4,488.6 V511.29999999999995 H564.4 V488.6" fill="none" stroke="#7c7c7c" stroke-width="0.5"/>
<path d="M549,425.4 H571" stroke="#7c7c7c" stroke-width="0.6"/><path d="M549,425.4 l2.5,-0.9 v1.8 Z M571,425.4 l-2.5,-0.9 v1.8 Z" fill="#7c7c7c"/>
<text x="560.0" y="424.09999999999997" font-size="5.6" fill="#444" text-anchor="middle">4</text>
<path d="M549.3,520.4 H572.5" stroke="#7c7c7c" stroke-width="0.6"/><path d="M549.3,520.4 l2.5,-0.9 v1.8 Z M572.5,520.4 l-2.5,-0.9 v1.8 Z" fill="#7c7c7c"/>
<path d="M549.3,516.4 V521.9 M572.5,516.4 V521.9" stroke="#7c7c7c" stroke-width="0.5"/>
<text x="560.9" y="519.1" font-size="5.6" fill="#444" text-anchor="middle">6</text>
<path d="M545.5,458.5 V486.1" stroke="#7c7c7c" stroke-width="0.6"/><path d="M545.5,458.5 l-0.9,2.5 h1.8 Z M545.5,486.1 l-0.9,-2.5 h1.8 Z" fill="#7c7c7c"/>
<path d="M544.0,458.5 H549.5 M544.0,486.1 H549.5" stroke="#7c7c7c" stroke-width="0.5"/>
<text x="544.3" y="472.3" font-size="5.6" fill="#444" text-anchor="middle" transform="rotate(-90 544.3 472.3)">10.3</text>
<path d="M108.8,586.9 L128.7,560.4 L157.95,560.4 A3.85,3.85 0 0 1 157.95,568.1 L148.55,568.1 A5.55,5.55 0 0 0 148.55,579.2 L172.8,579.2 L178.4,586.9 L178.4,617.8 L172.8,627.70 L148.55,627.70 A5.55,5.55 0 0 0 148.55,638.80 L157.95,638.80 A3.85,3.85 0 0 1 157.95,646.5 L122.5,646.5 L108.8,617.8 Z" fill="#fff" stroke="#7c7c7c" stroke-width="0.7"/>
<path d="M108.8,589 H178.4" stroke="#7c7c7c" stroke-width="0.6"/>
<path d="M108.8,615.5 H178.4" stroke="#7c7c7c" stroke-width="0.6"/>
<path d="M148.55,566.1000000000001 V581.2" stroke="#7c7c7c" stroke-width="0.5" stroke-dasharray="2 1"/>
<path d="M141.0,573.6500000000001 H189.2" stroke="#7c7c7c" stroke-width="0.5"/>
<path d="M148.55,625.7 V640.8" stroke="#7c7c7c" stroke-width="0.5" stroke-dasharray="2 1"/>
<path d="M141.0,633.25 H189.2" stroke="#7c7c7c" stroke-width="0.5"/>
<path d="M187.2,573.7 V631.1" stroke="#7c7c7c" stroke-width="0.6"/><path d="M187.2,573.7 l-0.9,2.5 h1.8 Z M187.2,631.1 l-0.9,-2.5 h1.8 Z" fill="#7c7c7c"/>
<text x="185.89999999999998" y="602.4000000000001" font-size="5.6" fill="#444" text-anchor="middle" transform="rotate(-90 185.89999999999998 602.4000000000001)">20.5</text>
<path d="M108.8,652.1 H178.4" stroke="#7c7c7c" stroke-width="0.6"/><path d="M108.8,652.1 l2.5,-0.9 v1.8 Z M178.4,652.1 l-2.5,-0.9 v1.8 Z" fill="#7c7c7c"/>
<path d="M108.8,619.8 V653.6 M178.4,619.8 V653.6" stroke="#7c7c7c" stroke-width="0.5"/>
<text x="143.6" y="650.8000000000001" font-size="5.6" fill="#444" text-anchor="middle">25.6</text>
<rect x="206" y="556" width="12.10" height="32.00" fill="#fff" stroke="#7c7c7c" stroke-width="0.7"/>
<rect x="206" y="617.8" width="12.10" height="26.50" fill="#fff" stroke="#7c7c7c" stroke-width="0.7"/>
<rect x="200.4" y="588" width="22.10" height="4.50" fill="#fff" stroke="#7c7c7c" stroke-width="0.7"/>
<rect x="206" y="592.5" width="12.10" height="21.00" fill="#fff" stroke="#7c7c7c" stroke-width="0.7"/>
<rect x="200.4" y="613.5" width="22.10" height="4.30" fill="#fff" stroke="#7c7c7c" stroke-width="0.7"/>
<path d="M206,560.5 H218.1" stroke="#7c7c7c" stroke-width="0.5"/>
<path d="M207.5,620.3 V641.8 H216.6 V620.3" fill="none" stroke="#7c7c7c" stroke-width="0.5"/>
<path d="M198.4,556 H224.5" stroke="#7c7c7c" stroke-width="0.6"/><path d="M198.4,556 l2.5,-0.9 v1.8 Z M224.5,556 l-2.5,-0.9 v1.8 Z" fill="#7c7c7c"/>
<text x="211.45" y="554.7" font-size="5.6" fill="#444" text-anchor="middle">4</text>
<path d="M197.5,588 V617.8" stroke="#7c7c7c" stroke-width="0.6"/><path d="M197.5,588 l-0.9,2.5 h1.8 Z M197.5,617.8 l-0.9,-2.5 h1.8 Z" fill="#7c7c7c"/>
<path d="M196.0,588 H201.5 M196.0,617.8 H201.5" stroke="#7c7c7c" stroke-width="0.5"/>
<text x="196.3" y="602.9" font-size="5.6" fill="#444" text-anchor="middle" transform="rotate(-90 196.3 602.9)">10.3</text>
<path d="M456.6,590.2 L473.1,565.9 L512.9,565.9 L525,590.2 L525,622.3 L512.9,648.8 L473.1,648.8 L456.6,622.3 Z" fill="#fff" stroke="#7c7c7c" stroke-width="0.7"/>
<path d="M456.6,592.5 H525" stroke="#7c7c7c" stroke-width="0.6"/>
<path d="M456.6,601.3 H525" stroke="#7c7c7c" stroke-width="0.6"/>
<path d="M456.6,613.4 H525" stroke="#7c7c7c" stroke-width="0.6"/>
<path d="M456.6,619 H525" stroke="#7c7c7c" stroke-width="0.6"/>
<circle cx="494.1" cy="579.2" r="5.5" fill="none" stroke="#7c7c7c" stroke-width="0.7"/>
<path d="M494.1,571.7 V586.7" stroke="#7c7c7c" stroke-width="0.5" stroke-dasharray="2 1"/>
<path d="M486.6,579.2 H533.7" stroke="#7c7c7c" stroke-width="0.5"/>
<circle cx="494.1" cy="634.4" r="5.5" fill="none" stroke="#7c7c7c" stroke-width="0.7"/>
<path d="M494.1,626.9 V641.9" stroke="#7c7c7c" stroke-width="0.5" stroke-dasharray="2 1"/>
<path d="M486.6,634.4 H533.7" stroke="#7c7c7c" stroke-width="0.5"/>
<path d="M531.7,580.3 V635.5" stroke="#7c7c7c" stroke-width="0.6"/><path d="M531.7,580.3 l-0.9,2.5 h1.8 Z M531.7,635.5 l-0.9,-2.5 h1.8 Z" fill="#7c7c7c"/>
<text x="530.4000000000001" y="607.9" font-size="5.6" fill="#444" text-anchor="middle" transform="rotate(-90 530.4000000000001 607.9)">20.5</text>
<path d="M456.6,655.4 H525" stroke="#7c7c7c" stroke-width="0.6"/><path d="M456.6,655.4 l2.5,-0.9 v1.8 Z M525,655.4 l-2.5,-0.9 v1.8 Z" fill="#7c7c7c"/>
<path d="M456.6,624.3 V656.9 M525,624.3 V656.9" stroke="#7c7c7c" stroke-width="0.5"/>
<text x="490.8" y="654.1" font-size="5.6" fill="#444" text-anchor="middle">25.6</text>
<rect x="554.9" y="560.4" width="12.10" height="29.80" fill="#fff" stroke="#7c7c7c" stroke-width="0.7"/>
<rect x="554.9" y="622.3" width="12.10" height="26.50" fill="#fff" stroke="#7c7c7c" stroke-width="0.7"/>
<rect x="554.9" y="590.2" width="12.10" height="3.30" fill="#fff" stroke="#7c7c7c" stroke-width="0.7"/>
<rect x="544.9" y="593.5" width="29.80" height="7.80" fill="#fff" stroke="#7c7c7c" stroke-width="0.7"/>
<rect x="554.9" y="601.3" width="12.10" height="9.90" fill="#fff" stroke="#7c7c7c" stroke-width="0.7"/>
<rect x="544.9" y="611.2" width="29.80" height="8.80" fill="#fff" stroke="#7c7c7c" stroke-width="0.7"/>
<rect x="554.9" y="620" width="12.10" height="2.30" fill="#fff" stroke="#7c7c7c" stroke-width="0.7"/>
<path d="M554.9,564.9 H567" stroke="#7c7c7c" stroke-width="0.5"/>
<path d="M556.4,624.8 V646.3 H565.5 V624.8" fill="none" stroke="#7c7c7c" stroke-width="0.5"/>
<path d="M549,560 H571" stroke="#7c7c7c" stroke-width="0.6"/><path d="M549,560 l2.5,-0.9 v1.8 Z M571,560 l-2.5,-0.9 v1.8 Z" fill="#7c7c7c"/>
<text x="560.0" y="558.7" font-size="5.6" fill="#444" text-anchor="middle">4</text>
<path d="M549,655.4 H570" stroke="#7c7c7c" stroke-width="0.6"/><path d="M549,655.4 l2.5,-0.9 v1.8 Z M570,655.4 l-2.5,-0.9 v1.8 Z" fill="#7c7c7c"/>
<path d="M549,651.4 V656.9 M570,651.4 V656.9" stroke="#7c7c7c" stroke-width="0.5"/>
<text x="559.5" y="654.1" font-size="5.6" fill="#444" text-anchor="middle">10</text>
<path d="M542,593.5 V620" stroke="#7c7c7c" stroke-width="0.6"/><path d="M542,593.5 l-0.9,2.5 h1.8 Z M542,620 l-0.9,-2.5 h1.8 Z" fill="#7c7c7c"/>
<path d="M540.5,593.5 H546 M540.5,620 H546" stroke="#7c7c7c" stroke-width="0.5"/>
<text x="540.8" y="606.75" font-size="5.6" fill="#444" text-anchor="middle" transform="rotate(-90 540.8 606.75)">10.3</text>
<path d="M114.8,66 L120.6,66 C120.91,53.5 121.83999999999999,53.5 123.69999999999999,53.5 C125.56,53.5 126.49,53.5 126.8,66 L133,66 C133.36,53.5 134.44,53.5 136.6,53.5 C138.76,53.5 139.83999999999997,53.5 140.2,66 L146.4,66 C146.81,53.5 148.04,53.5 150.5,53.5 C152.96,53.5 154.19,53.5 154.6,66 L161.9,66 C162.36,53.5 163.74,53.5 166.5,53.5 C169.26,53.5 170.64,53.5 171.1,66 L178,66" fill="none" stroke="#7c7c7c" stroke-width="0.6"/>
<path d="M120.6,66 v2 M126.8,66 v2 M133,66 v2 M140.2,66 v2 M146.4,66 v2 M154.6,66 v2 M161.9,66 v2 M171.1,66 v2" stroke="#777" stroke-width="0.5"/>
<text x="121" y="72.5" font-size="4" fill="#666" text-anchor="middle">0.25</text>
<text x="137" y="72.5" font-size="4" fill="#666" text-anchor="middle">0.5</text>
<text x="150.5" y="72.5" font-size="4" fill="#666" text-anchor="middle">1</text>
<text x="166.5" y="72.5" font-size="4" fill="#666" text-anchor="middle">1.5</text>
<text transform="translate(115.23 181.50) scale(1.3000 1)" font-size="10.29" letter-spacing="0.35" font-weight="normal" font-style="normal" fill="#7a7a7a" >48B</text>
<g transform="rotate(180 127.35 223.35)"><text transform="translate(115.23 227.00) scale(1.3000 1)" font-size="10.43" letter-spacing="0.23" font-weight="normal" font-style="normal" fill="#7a7a7a" >48B</text></g>
<path d="M112,205.5 L119.6,205.5 C120.00999999999999,191.9 121.24,191.9 123.69999999999999,191.9 C126.16,191.9 127.39,191.9 127.8,205.5 L139.2,205.5 C139.71499999999997,191.9 141.26,191.9 144.35,191.9 C147.44,191.9 148.985,191.9 149.5,205.5 L159.8,205.5 C160.365,191.9 162.06,191.9 165.45,191.9 C168.84,191.9 170.535,191.9 171.1,205.5 L178,205.5" fill="none" stroke="#7c7c7c" stroke-width="0.6"/>
<text transform="translate(116.03 215.00) scale(1.1503 1)" font-size="10.29" letter-spacing="0.00" font-weight="normal" font-style="normal" fill="#7a7a7a" >0.5</text>
<text transform="translate(141.75 215.00) scale(0.7000 1)" font-size="10.43" letter-spacing="0.00" font-weight="normal" font-style="normal" fill="#7a7a7a" >1</text>
<text transform="translate(158.01 215.00) scale(1.0072 1)" font-size="10.43" letter-spacing="0.00" font-weight="normal" font-style="normal" fill="#7a7a7a" >1.5</text>
<text transform="translate(472.15 172.00) scale(1.1333 1)" font-size="10.71" letter-spacing="0.00" font-weight="normal" font-style="normal" fill="#7a7a7a" >SN</text>
<text transform="translate(461.86 181.50) scale(1.0419 1)" font-size="10.29" letter-spacing="0.00" font-weight="normal" font-style="normal" fill="#7a7a7a" >2546B</text>
<text transform="translate(459.75 191.90) scale(1.0622 1)" font-size="10.43" letter-spacing="0.00" font-weight="normal" font-style="normal" fill="#7a7a7a" >2.5</text>
<text transform="translate(483.77 191.90) scale(1.1133 1)" font-size="10.43" letter-spacing="0.00" font-weight="normal" font-style="normal" fill="#7a7a7a" >4.0</text>
<text transform="translate(505.11 191.90) scale(1.1316 1)" font-size="10.43" letter-spacing="0.00" font-weight="normal" font-style="normal" fill="#7a7a7a" >6.0</text>
<text x="520.5" y="195.5" font-size="4.5" fill="#666">mm</text>
<path d="M453,207.3 L462.4,207.3 C463.015,194.5 464.85999999999996,194.5 468.54999999999995,194.5 C472.24,194.5 474.085,194.5 474.7,207.3 L484,207.3 C484.775,194.5 487.1,194.5 491.75,194.5 C496.4,194.5 498.725,194.5 499.5,207.3 L505.7,207.3 C506.46999999999997,194.5 508.78,194.5 513.4,194.5 C518.02,194.5 520.33,194.5 521.1,207.3 L529,207.3" fill="none" stroke="#7c7c7c" stroke-width="0.6"/>
<g transform="rotate(180 477.35 217.75)"><text transform="translate(461.86 221.00) scale(1.1541 1)" font-size="9.29" letter-spacing="-0.00" font-weight="normal" font-style="normal" fill="#7a7a7a" >2546B</text></g>
<g transform="rotate(180 480.35 226.00)"><text transform="translate(472.15 229.50) scale(1.2143 1)" font-size="10.00" letter-spacing="0.00" font-weight="normal" font-style="normal" fill="#7a7a7a" >SN</text></g>
<text transform="translate(107.24 314.70) scale(1.2044 1)" font-size="9.57" letter-spacing="0.00" font-weight="normal" font-style="normal" fill="#7a7a7a" >06WF</text>
<g transform="rotate(180 125.00 356.00)"><text transform="translate(109.54 359.50) scale(1.1605 1)" font-size="10.00" letter-spacing="0.00" font-weight="normal" font-style="normal" fill="#7a7a7a" >06WF</text></g>
<path d="M99,327.5 L104.4,327.5 Q104.92800000000001,331.3 105.72,331.3 L107.48,331.3 Q108.27199999999999,331.3 108.8,327.5 L112.5,327.5 Q113.184,331.3 114.21000000000001,331.3 L116.49000000000001,331.3 Q117.516,331.3 118.2,327.5 L121.9,327.5 Q122.5,333.1 123.4,333.1 L125.4,333.1 Q126.30000000000001,333.1 126.9,327.5 L131.3,327.5 Q132.056,334.4 133.19,334.4 L135.71,334.4 Q136.844,334.4 137.6,327.5 L143.2,327.5 Q144.028,335.6 145.26999999999998,335.6 L148.03,335.6 Q149.272,335.6 150.1,327.5 L157.6,327.5 Q158.944,337.5 160.96,337.5 L165.44,337.5 Q167.45600000000002,337.5 168.8,327.5 L177.3,327.5" fill="none" stroke="#7c7c7c" stroke-width="0.6"/>
<path d="M99,329 H103 M109.5,329 H112 M119,329 H121.5 M127.5,329 H131 M138,329 H142.8 M150.5,329 H157.2 M169.2,329 H177.3" stroke="#7c7c7c" stroke-width="0.4"/>
<text x="104.4" y="339.7" font-size="7.2" fill="#777" text-anchor="middle" transform="rotate(-90 104.4 339.7)" dominant-baseline="middle">0.25</text>
<text x="110.7" y="341.45" font-size="7.2" fill="#777" text-anchor="middle" transform="rotate(-90 110.7 341.45)" dominant-baseline="middle">0.5</text>
<text x="117.2" y="339.7" font-size="7.2" fill="#777" text-anchor="middle" transform="rotate(-90 117.2 339.7)" dominant-baseline="middle">0.75</text>
<text x="123.7" y="343.95" font-size="7.2" fill="#777" text-anchor="middle" transform="rotate(-90 123.7 343.95)" dominant-baseline="middle">1</text>
<text x="129.7" y="342.2" font-size="7.2" fill="#777" text-anchor="middle" transform="rotate(-90 129.7 342.2)" dominant-baseline="middle">1.5</text>
<text x="135.7" y="341.45" font-size="7.2" fill="#777" text-anchor="middle" transform="rotate(-90 135.7 341.45)" dominant-baseline="middle">2.5</text>
<text x="146" y="342.5" font-size="7.5" fill="#777" text-anchor="middle" transform="rotate(-90 146 342.5)" dominant-baseline="middle">4</text>
<text x="163.2" y="342.5" font-size="7.5" fill="#777" text-anchor="middle" transform="rotate(-90 163.2 342.5)" dominant-baseline="middle">6</text>
<text transform="translate(487.95 316.90) scale(0.7879 1)" font-size="11.00" letter-spacing="0.00" font-weight="normal" font-style="normal" fill="#7a7a7a" >16WF</text>
<g transform="rotate(180 499.65 360.00)"><text transform="translate(487.95 363.50) scale(0.8667 1)" font-size="10.00" letter-spacing="0.00" font-weight="normal" font-style="normal" fill="#7a7a7a" >16WF</text></g>
<text x="461.5" y="327.5" font-size="5" fill="#555" text-anchor="middle">6*</text>
<text x="479.5" y="327.5" font-size="5" fill="#555" text-anchor="middle">10*</text>
<text x="504" y="327.5" font-size="5" fill="#555" text-anchor="middle">16*</text>
<path d="M455.5,329.5 L456.952,341.9 Q457.315,343.4 459.13,343.4 L463.97,343.4 Q465.785,343.4 466.148,341.9 L467.6,329.5" fill="none" stroke="#7c7c7c" stroke-width="0.7"/>
<path d="M473.1,329.5 L474.696,341.9 Q475.095,343.4 477.09000000000003,343.4 L482.40999999999997,343.4 Q484.405,343.4 484.804,341.9 L486.4,329.5" fill="none" stroke="#7c7c7c" stroke-width="0.7"/>
<path d="M495.2,329.5 L497.324,341.9 Q497.85499999999996,343.4 500.51,343.4 L507.59,343.4 Q510.245,343.4 510.77599999999995,341.9 L512.9,329.5" fill="none" stroke="#7c7c7c" stroke-width="0.7"/>
<path d="M457.5,331 L458.472,340.0 Q458.71500000000003,341.5 459.93,341.5 L463.17,341.5 Q464.385,341.5 464.62800000000004,340.0 L465.6,331" fill="none" stroke="#7c7c7c" stroke-width="0.4"/>
<path d="M475.1,331 L476.216,340.0 Q476.495,341.5 477.89,341.5 L481.61,341.5 Q483.005,341.5 483.284,340.0 L484.4,331" fill="none" stroke="#7c7c7c" stroke-width="0.4"/>
<path d="M497.2,331 L498.844,340.0 Q499.255,341.5 501.31,341.5 L506.78999999999996,341.5 Q508.84499999999997,341.5 509.256,340.0 L510.9,331" fill="none" stroke="#7c7c7c" stroke-width="0.4"/>
<text transform="translate(117.12 454.10) scale(1.2691 1)" font-size="9.43" letter-spacing="0.00" font-weight="normal" font-style="normal" fill="#7a7a7a" >02C</text>
<g transform="rotate(180 128.10 493.90)"><text transform="translate(117.12 497.30) scale(1.2318 1)" font-size="9.71" letter-spacing="0.00" font-weight="normal" font-style="normal" fill="#7a7a7a" >02C</text></g>
<text transform="translate(109.46 470.00) scale(1.3000 1)" font-size="8.29" letter-spacing="2.32" font-weight="normal" font-style="normal" fill="#7a7a7a" >25</text>
<text transform="translate(132.24 470.00) scale(1.2130 1)" font-size="8.41" letter-spacing="0.00" font-weight="normal" font-style="normal" fill="#7a7a7a" >1.5</text>
<text transform="translate(153.46 470.00) scale(1.3000 1)" font-size="8.29" letter-spacing="0.38" font-weight="normal" font-style="normal" fill="#7a7a7a" >2.5</text>
<path d="M109.9,466.3 L111.616,476.9 Q112.045,478.4 114.19,478.4 L119.91,478.4 Q122.055,478.4 122.48400000000001,476.9 L124.2,466.3" fill="none" stroke="#7c7c7c" stroke-width="0.7"/>
<path d="M130.9,466.3 L132.616,476.9 Q133.04500000000002,478.4 135.19,478.4 L140.91,478.4 Q143.05499999999998,478.4 143.48399999999998,476.9 L145.2,466.3" fill="none" stroke="#7c7c7c" stroke-width="0.7"/>
<path d="M154,466.3 L156.124,476.9 Q156.655,478.4 159.31,478.4 L166.39,478.4 Q169.045,478.4 169.576,476.9 L171.7,466.3" fill="none" stroke="#7c7c7c" stroke-width="0.7"/>
<text transform="translate(467.06 453.00) scale(1.2334 1)" font-size="11.00" letter-spacing="0.00" font-weight="normal" font-style="normal" fill="#7a7a7a" >03H</text>
<g transform="rotate(180 479.20 495.35)"><text transform="translate(467.06 499.20) scale(1.2334 1)" font-size="11.00" letter-spacing="0.00" font-weight="normal" font-style="normal" fill="#7a7a7a" >03H</text></g>
<text x="469.5" y="466" font-size="4.6" fill="#555" text-anchor="middle">.178</text>
<text x="469.5" y="477.5" font-size="4.6" fill="#555" text-anchor="middle" transform="rotate(180 469.5 479)">.178</text>
<text x="482.5" y="466" font-size="4.6" fill="#555" text-anchor="middle">.138</text>
<text x="482.5" y="477.5" font-size="4.6" fill="#555" text-anchor="middle" transform="rotate(180 482.5 479)">.138</text>
<text x="499" y="466" font-size="4.6" fill="#555" text-anchor="middle">.128</text>
<text x="499" y="477.5" font-size="4.6" fill="#555" text-anchor="middle" transform="rotate(180 499 479)">.128</text>
<text x="513" y="466" font-size="4.6" fill="#555" text-anchor="middle">.068</text>
<text x="513" y="477.5" font-size="4.6" fill="#555" text-anchor="middle" transform="rotate(180 513 479)">.068</text>
<text x="521.5" y="466" font-size="4.6" fill="#555" text-anchor="middle">.04</text>
<text x="521.5" y="477.5" font-size="4.6" fill="#555" text-anchor="middle" transform="rotate(180 521.5 479)">.04</text>
<polygon points="474.10,471.80 471.65,476.04 466.75,476.04 464.30,471.80 466.75,467.56 471.65,467.56" fill="none" stroke="#7c7c7c" stroke-width="0.6"/>
<polygon points="487.50,471.80 485.05,476.04 480.15,476.04 477.70,471.80 480.15,467.56 485.05,467.56" fill="none" stroke="#7c7c7c" stroke-width="0.6"/>
<polygon points="506.10,471.80 502.60,477.86 495.60,477.86 492.10,471.80 495.60,465.74 502.60,465.74" fill="none" stroke="#7c7c7c" stroke-width="0.6"/>
<circle cx="514" cy="471.8" r="2" fill="none" stroke="#7c7c7c" stroke-width="0.6"/>
<circle cx="521.7" cy="471.8" r="1.1" fill="none" stroke="#7c7c7c" stroke-width="0.6"/>
<path d="M453,471.8 H456 V469 H459 V471.8 H464.3 M474.1,471.8 H477.7 M487.5,471.8 H492 M506.2,471.8 H512 M516,471.8 H520.6 M522.8,471.8 H530" fill="none" stroke="#7c7c7c" stroke-width="0.6"/>
<text transform="translate(118.38 582.50) scale(1.1470 1)" font-size="11.00" letter-spacing="0.00" font-weight="normal" font-style="normal" fill="#7a7a7a" >X-6</text>
<g transform="rotate(180 127.00 627.20)"><text transform="translate(117.28 631.10) scale(1.1323 1)" font-size="11.14" letter-spacing="0.00" font-weight="normal" font-style="normal" fill="#7a7a7a" >X-6</text></g>
<path d="M110,601.5 H114 C117,607 119,607 121,601 C123,595 125,594 127,594.3 C130,594.8 131,607.5 136.4,607.5 C141.5,607.5 143,594.5 147.4,593.3 C152,592.5 154,609.5 160.7,609.5 C166.5,609.5 167.5,599.5 171.5,598.5 H177.3" fill="none" stroke="#7c7c7c" stroke-width="0.7"/>
<path d="M110,605.5 H114.5 C117,611 120,611 122.5,605 C124,600 125.5,598.5 127,598.6 C129,598.8 131,611.7 136.4,611.7 C142,611.7 144,598 147.4,597.6 C151,597.4 153,613.5 160.7,613.5 C167.5,613.5 168.5,603.5 171.5,602.5 H177.3" fill="none" stroke="#7c7c7c" stroke-width="0.7"/>
<path d="M214,591 V605 M218.1,591 V605" stroke="#7c7c7c" stroke-width="0.5"/>
<path d="M210.5,598.5 H221.5" stroke="#7c7c7c" stroke-width="0.6"/><path d="M210.5,598.5 l2.5,-0.9 v1.8 Z M221.5,598.5 l-2.5,-0.9 v1.8 Z" fill="#7c7c7c"/>
<text x="218" y="596.5" font-size="5.6" fill="#444" text-anchor="middle">4</text>
<text transform="translate(462.75 588.00) scale(0.9011 1)" font-size="12.57" letter-spacing="0.00" font-weight="normal" font-style="normal" fill="#7a7a7a" >0325</text>
<g transform="rotate(180 475.35 629.90)"><text transform="translate(462.75 634.30) scale(0.9011 1)" font-size="12.57" letter-spacing="0.00" font-weight="normal" font-style="normal" fill="#7a7a7a" >0325</text></g>
<text transform="translate(467.47 601.20) scale(0.9323 1)" font-size="8.86" letter-spacing="0.00" font-weight="normal" font-style="normal" fill="#7a7a7a" >0.75</text>
<text transform="translate(485.44 601.20) scale(0.8292 1)" font-size="8.99" letter-spacing="0.00" font-weight="normal" font-style="normal" fill="#7a7a7a" >1.5</text>
<text transform="translate(502.62 601.20) scale(0.8685 1)" font-size="8.86" letter-spacing="0.00" font-weight="normal" font-style="normal" fill="#7a7a7a" >2.5</text>
<path d="M458,605 L462,603.5 H465 Q469,611 473.5,603.5 H478 Q482,611 486.5,603.5 H490 Q494.5,612 499,603.5 H503 Q508,614 514,603.5 H517 L523,605" fill="none" stroke="#7c7c7c" stroke-width="0.7"/>
<path d="M458,608.5 L462,607 H465 Q469,614.5 473.5,607 H478 Q482,614.5 486.5,607 H490 Q494.5,615.5 499,607 H503 Q508,617.5 514,607 H517 L523,608.5" fill="none" stroke="#7c7c7c" stroke-width="0.5"/>
<path d="M556,598 H564" stroke="#7c7c7c" stroke-width="0.5"/>
<text x="560" y="596.5" font-size="5.6" fill="#444" text-anchor="middle">5</text>
<defs><linearGradient id="gSil" x1="0" y1="0" x2="1" y2="0"><stop offset="0" stop-color="#9a9797"/><stop offset="0.3" stop-color="#e4e2e1"/><stop offset="0.55" stop-color="#c3c0bf"/><stop offset="1" stop-color="#9a9797"/></linearGradient><linearGradient id="gSilG" x1="0" y1="0" x2="1" y2="0"><stop offset="0" stop-color="#93a290"/><stop offset="0.3" stop-color="#d8e1d5"/><stop offset="0.55" stop-color="#b4c2b1"/><stop offset="1" stop-color="#93a290"/></linearGradient><linearGradient id="gRed" x1="0" y1="0" x2="1" y2="0"><stop offset="0" stop-color="#b3141c"/><stop offset="0.3" stop-color="#e8424a"/><stop offset="0.55" stop-color="#d4202a"/><stop offset="1" stop-color="#b3141c"/></linearGradient><linearGradient id="gYel" x1="0" y1="0" x2="1" y2="0"><stop offset="0" stop-color="#d7b90c"/><stop offset="0.3" stop-color="#f6e35a"/><stop offset="0.55" stop-color="#ecd21c"/><stop offset="1" stop-color="#d7b90c"/></linearGradient><linearGradient id="gGrn" x1="0" y1="0" x2="1" y2="0"><stop offset="0" stop-color="#1e9a2e"/><stop offset="0.3" stop-color="#5fd46a"/><stop offset="0.55" stop-color="#34b843"/><stop offset="1" stop-color="#1e9a2e"/></linearGradient><linearGradient id="gBlu" x1="0" y1="0" x2="1" y2="0"><stop offset="0" stop-color="#1f47b8"/><stop offset="0.3" stop-color="#5584ea"/><stop offset="0.55" stop-color="#2f62d8"/><stop offset="1" stop-color="#1f47b8"/></linearGradient><linearGradient id="gBlk" x1="0" y1="0" x2="1" y2="0"><stop offset="0" stop-color="#151515"/><stop offset="0.3" stop-color="#474747"/><stop offset="0.55" stop-color="#2a2a2a"/><stop offset="1" stop-color="#151515"/></linearGradient><linearGradient id="gPin" x1="0" y1="0" x2="1" y2="0"><stop offset="0" stop-color="#8e8e90"/><stop offset="0.3" stop-color="#e4e4e6"/><stop offset="0.55" stop-color="#c4c4c6"/><stop offset="1" stop-color="#8e8e90"/></linearGradient></defs>
<path d="M247.6,6.7 L254.10000000000002,10.7 L256.1,10.7 L262.6,6.7 L262.0,37 L248.2,37 Z" fill="url(#gSilG)" stroke="#7b8a78" stroke-width="0.5"/>
<path d="M247.6,36 L243.4,41 L243.4,67.7 L266,67.7 L266,41 L262.6,36 Z" fill="url(#gSilG)" stroke="#7b8a78" stroke-width="0.5"/>
<rect x="250.63" y="44" width="8.14" height="21.70" fill="#7f8d7c" opacity="0.75"/>
<path d="M245.21,41 V67.7" stroke="#c9d3c6" stroke-width="0.6"/>
<path d="M247.92,41 V67.7" stroke="#c9d3c6" stroke-width="0.6"/>
<path d="M261.48,41 V67.7" stroke="#c9d3c6" stroke-width="0.6"/>
<path d="M264.19,41 V67.7" stroke="#c9d3c6" stroke-width="0.6"/>
<path d="M252.10,10.7 V37" stroke="#869483" stroke-width="0.6"/>
<path d="M258.10,10.7 V37" stroke="#869483" stroke-width="0.6"/>
<path d="M277.6,25.9 L281.65,29.9 L283.65,29.9 L287.7,25.9 L287.09999999999997,46 L278.20000000000005,46 Z" fill="url(#gSilG)" stroke="#7b8a78" stroke-width="0.5"/>
<path d="M277.6,45.1 L274.3,50.1 L274.3,67.7 L290.2,67.7 L290.2,50.1 L287.7,45.1 Z" fill="url(#gSilG)" stroke="#7b8a78" stroke-width="0.5"/>
<rect x="279.39" y="53.1" width="5.72" height="12.60" fill="#7f8d7c" opacity="0.75"/>
<path d="M275.57,50.1 V67.7" stroke="#c9d3c6" stroke-width="0.6"/>
<path d="M277.48,50.1 V67.7" stroke="#c9d3c6" stroke-width="0.6"/>
<path d="M287.02,50.1 V67.7" stroke="#c9d3c6" stroke-width="0.6"/>
<path d="M288.93,50.1 V67.7" stroke="#c9d3c6" stroke-width="0.6"/>
<path d="M280.63,29.9 V46" stroke="#869483" stroke-width="0.6"/>
<path d="M284.67,29.9 V46" stroke="#869483" stroke-width="0.6"/>
<path d="M299.4,30.1 L302.15,34.1 L304.15,34.1 L306.9,30.1 L306.29999999999995,49 L300.0,49 Z" fill="url(#gSilG)" stroke="#7b8a78" stroke-width="0.5"/>
<path d="M299.4,48.5 L298.5,53.5 L298.5,67.7 L307.7,67.7 L307.7,53.5 L306.9,48.5 Z" fill="url(#gSilG)" stroke="#7b8a78" stroke-width="0.5"/>
<rect x="301.44" y="56.5" width="3.31" height="9.20" fill="#7f8d7c" opacity="0.75"/>
<path d="M299.24,53.5 V67.7" stroke="#c9d3c6" stroke-width="0.6"/>
<path d="M300.34,53.5 V67.7" stroke="#c9d3c6" stroke-width="0.6"/>
<path d="M305.86,53.5 V67.7" stroke="#c9d3c6" stroke-width="0.6"/>
<path d="M306.96,53.5 V67.7" stroke="#c9d3c6" stroke-width="0.6"/>
<path d="M301.65,34.1 V49" stroke="#869483" stroke-width="0.6"/>
<path d="M304.65,34.1 V49" stroke="#869483" stroke-width="0.6"/>
<path d="M248.2,150 L251.29999999999998,150 L251.79999999999998,169.525 Q255.95,174.95 260.09999999999997,169.525 L260.59999999999997,150 L263.7,150 L263.4,171.85 Q261.375,177 259.825,178 L252.075,178 Q250.52499999999998,177 248.5,171.85 Z" fill="url(#gSil)" stroke="#777" stroke-width="0.4"/>
<path d="M248.8,176.5 L262.2,176.5 L262.2,180.5 L263.7,182.5 L263.7,206.6 L247.3,206.6 L247.3,182.5 L248.8,180.5 Z" fill="url(#gRed)"/>
<path d="M277.5,174 L277.5,164.66 A9.1,9.1 0 1 1 284.5,164.66 L284.5,174 Z" fill="url(#gSil)" stroke="#777" stroke-width="0.4"/><circle cx="281" cy="159.2" r="5.5" fill="#fff" stroke="#888" stroke-width="0.4"/>
<path d="M274.4,172.8 L287.8,172.8 L287.8,176.8 L289.3,178.8 L289.3,206.6 L272.9,206.6 L272.9,178.8 L274.4,176.8 Z" fill="url(#gYel)"/>
<rect x="303" y="148.2" width="10.90" height="31.30" fill="url(#gPin)"/>
<path d="M306.63,148.2 V178.5" stroke="#8a8a8a" stroke-width="0.6"/>
<path d="M310.27,148.2 V178.5" stroke="#8a8a8a" stroke-width="0.6"/>
<path d="M297.5,206.6 L297.5,182.5 Q297.5,176.5 303.5,176.5 L308.8,176.5 Q314.8,176.5 314.8,182.5 L314.8,206.6 Z" fill="url(#gGrn)"/>
<g transform="translate(600.5,203) rotate(-66.14)"><rect x="0" y="-3.5" width="56.86" height="7" rx="1" fill="#cfcfcf" stroke="#858585" stroke-width="0.6"/><path d="M2,-2.3 H50.86" stroke="#f2f2f2" stroke-width="1.2"/><path d="M48.86,-6.0 L56.86,-7.0 L57.86,7.0 L48.86,6.0 Z" fill="#cfcfcf" stroke="#8f8f8f" stroke-width="0.5"/></g>
<g transform="translate(621.5,195) rotate(-65.66)"><rect x="0" y="-3.25" width="46.10" height="6.5" rx="1" fill="#cfcfcf" stroke="#858585" stroke-width="0.6"/><path d="M2,-2.05 H40.10" stroke="#f2f2f2" stroke-width="1.2"/><path d="M38.10,-5.75 L46.10,-6.75 L47.10,6.75 L38.10,5.75 Z" fill="#cfcfcf" stroke="#8f8f8f" stroke-width="0.5"/></g>
<rect x="261" y="277.3" width="11.90" height="35.80" fill="url(#gPin)"/>
<path d="M264.97,277.3 V312.1" stroke="#8a8a8a" stroke-width="0.6"/>
<path d="M268.93,277.3 V312.1" stroke="#8a8a8a" stroke-width="0.6"/>
<path d="M256.4,341.1 L256.4,316.1 Q256.4,310.1 262.4,310.1 L270.5,310.1 Q276.5,310.1 276.5,316.1 L276.5,341.1 Z" fill="url(#gYel)"/>
<rect x="289.3" y="281.9" width="10.90" height="34.00" fill="url(#gPin)"/>
<path d="M292.93,281.9 V314.9" stroke="#8a8a8a" stroke-width="0.6"/>
<path d="M296.57,281.9 V314.9" stroke="#8a8a8a" stroke-width="0.6"/>
<path d="M284.7,341.1 L284.7,318.9 Q284.7,312.9 290.7,312.9 L298.8,312.9 Q304.8,312.9 304.8,318.9 L304.8,341.1 Z" fill="url(#gGrn)"/>
<rect x="617.4" y="274.6" width="15.5" height="40" fill="url(#gPin)"/>
<path d="M622.5,274.6 V312 M627.5,274.6 V312" stroke="#8a8a8a" stroke-width="0.6"/>
<path d="M612.8,340.2 L612.8,319 Q612.8,311 620,311 L630,311 Q637.4,311 637.4,319 L637.4,340.2 Z" fill="url(#gBlk)"/>
<path d="M238.2,423.2 L241.12,423.2 L241.62,441.33 Q245.5,446.44 249.38,441.33 L249.88,423.2 L252.8,423.2 L252.5,443.52 Q250.61,448 249.15,449 L241.85,449 Q240.39,448 238.5,443.52 Z" fill="url(#gSil)" stroke="#777" stroke-width="0.4"/>
<path d="M238.8,447.9 L251.3,447.9 L251.3,451.9 L252.8,453.9 L252.8,474.3 L237.3,474.3 L237.3,453.9 L238.8,451.9 Z" fill="url(#gRed)"/>
<path d="M264.8,444 L264.8,435.96 A9.1,9.1 0 1 1 271.8,435.96 L271.8,444 Z" fill="url(#gSil)" stroke="#777" stroke-width="0.4"/><circle cx="268.3" cy="430.5" r="6" fill="#fff" stroke="#888" stroke-width="0.4"/>
<path d="M260.7,442.4 L275.0,442.4 L275.0,446.4 L276.5,448.4 L276.5,474.3 L259.2,474.3 L259.2,448.4 L260.7,446.4 Z" fill="url(#gYel)"/>
<path d="M282,422.3 H300.2 V437 L294,445 H288 L282,437 Z" fill="url(#gSil)" stroke="#777" stroke-width="0.5"/>
<rect x="286.5" y="425" width="9" height="9" fill="#6e6c6c" opacity="0.8"/>
<path d="M286.8,447.9 L296.3,447.9 L296.3,451.9 L297.5,453.9 L297.5,474.3 L285.6,474.3 L285.6,453.9 L286.8,451.9 Z" fill="url(#gRed)"/>
<rect x="307.5" y="424.2" width="15.5" height="50.1" rx="2" fill="url(#gBlu)"/>
<defs><linearGradient id="gBnc" x1="0" y1="0" x2="0" y2="1"><stop offset="0" stop-color="#9c9a9a"/><stop offset="0.3" stop-color="#e9e8e8"/><stop offset="0.55" stop-color="#cfcdcd"/><stop offset="1" stop-color="#8a8888"/></linearGradient></defs>
<g transform="translate(607.3 444.2) rotate(-27)">
<rect x="33" y="-7.5" width="21" height="15" fill="url(#gBnc)" stroke="#9a9898" stroke-width="0.5"/>
<ellipse cx="54" cy="0" rx="2.5" ry="7.5" fill="#d6d4d4" stroke="#9a9898" stroke-width="0.5"/>
<rect x="15" y="-14" width="19" height="28" rx="2" fill="url(#gBnc)" stroke="#8f8d8d" stroke-width="0.5"/>
<path d="M16.0,-13 V13" stroke="#a9a7a7" stroke-width="0.6"/>
<path d="M18.3,-13 V13" stroke="#a9a7a7" stroke-width="0.6"/>
<path d="M20.6,-13 V13" stroke="#a9a7a7" stroke-width="0.6"/>
<path d="M22.9,-13 V13" stroke="#a9a7a7" stroke-width="0.6"/>
<path d="M25.2,-13 V13" stroke="#a9a7a7" stroke-width="0.6"/>
<path d="M27.5,-13 V13" stroke="#a9a7a7" stroke-width="0.6"/>
<path d="M29.8,-13 V13" stroke="#a9a7a7" stroke-width="0.6"/>
<path d="M32.1,-13 V13" stroke="#a9a7a7" stroke-width="0.6"/>
<rect x="0" y="-12" width="16" height="24" fill="url(#gBnc)" stroke="#8f8d8d" stroke-width="0.5"/>
<rect x="6" y="-13.5" width="4" height="27" fill="#bdbbbb" stroke="#8f8d8d" stroke-width="0.4"/>
<ellipse cx="0" cy="0" rx="6.5" ry="13.2" fill="#d9d7d7" stroke="#8a8888" stroke-width="0.6"/>
<ellipse cx="0" cy="0" rx="4.6" ry="9.5" fill="#eceaea" stroke="#a09e9e" stroke-width="0.5"/>
<ellipse cx="0" cy="0" rx="2.6" ry="5.2" fill="#f8f8f8" stroke="#b0aeae" stroke-width="0.4"/>
</g>
<polygon points="606.60,478.80 602.10,485.73 593.10,485.73 588.60,478.80 593.10,471.87 602.10,471.87" fill="none" stroke="#333" stroke-width="0.7"/>
<path d="M597.5,471.5 V486" stroke="#333" stroke-width="0.7"/>
<path d="M255.39999999999998,590 L255.39999999999998,575.0 A13.5,13.5 0 1 1 267.4,575.0 L267.4,590 Z" fill="url(#gSil)" stroke="#777" stroke-width="0.4"/><circle cx="261.4" cy="566.9" r="9" fill="#fff" stroke="#888" stroke-width="0.4"/>
<rect x="255.1" y="588.4" width="13.5" height="21.6" rx="1.2" fill="url(#gSil)"/>
<path d="M285.6,554.4 L290.62,554.4 L291.12,570.005 Q298.15,578.79 305.18,570.005 L305.68,554.4 L310.7,554.4 L310.4,573.77 Q306.935,589 304.425,590 L291.875,590 Q289.365,589 285.90000000000003,573.77 Z" fill="url(#gSil)" stroke="#777" stroke-width="0.4"/>
<rect x="291.9" y="589.3" width="14.4" height="20.7" rx="1.2" fill="url(#gSil)"/>
<path d="M598.2,588 L598.2,570.98 A14.3,14.3 0 1 1 610.2,570.98 L610.2,588 Z" fill="url(#gSil)" stroke="#777" stroke-width="0.4"/><circle cx="604.2" cy="562.4" r="9.9" fill="#fff" stroke="#888" stroke-width="0.4"/>
<rect x="597" y="586.6" width="13.5" height="22.4" rx="1.2" fill="url(#gSil)"/>
<path d="M629.3,549.9 L635.2199999999999,549.9 L635.7199999999999,566.18 Q644.0999999999999,576.54 652.48,566.18 L652.98,549.9 L658.9,549.9 L658.6,570.62 Q654.4599999999999,586 651.5,587 L636.6999999999999,587 Q633.74,586 629.5999999999999,570.62 Z" fill="url(#gSil)" stroke="#777" stroke-width="0.4"/>
<rect x="635.6" y="584.8" width="17.9" height="24.2" rx="1.2" fill="url(#gSil)"/>
</svg>
</body></html>
